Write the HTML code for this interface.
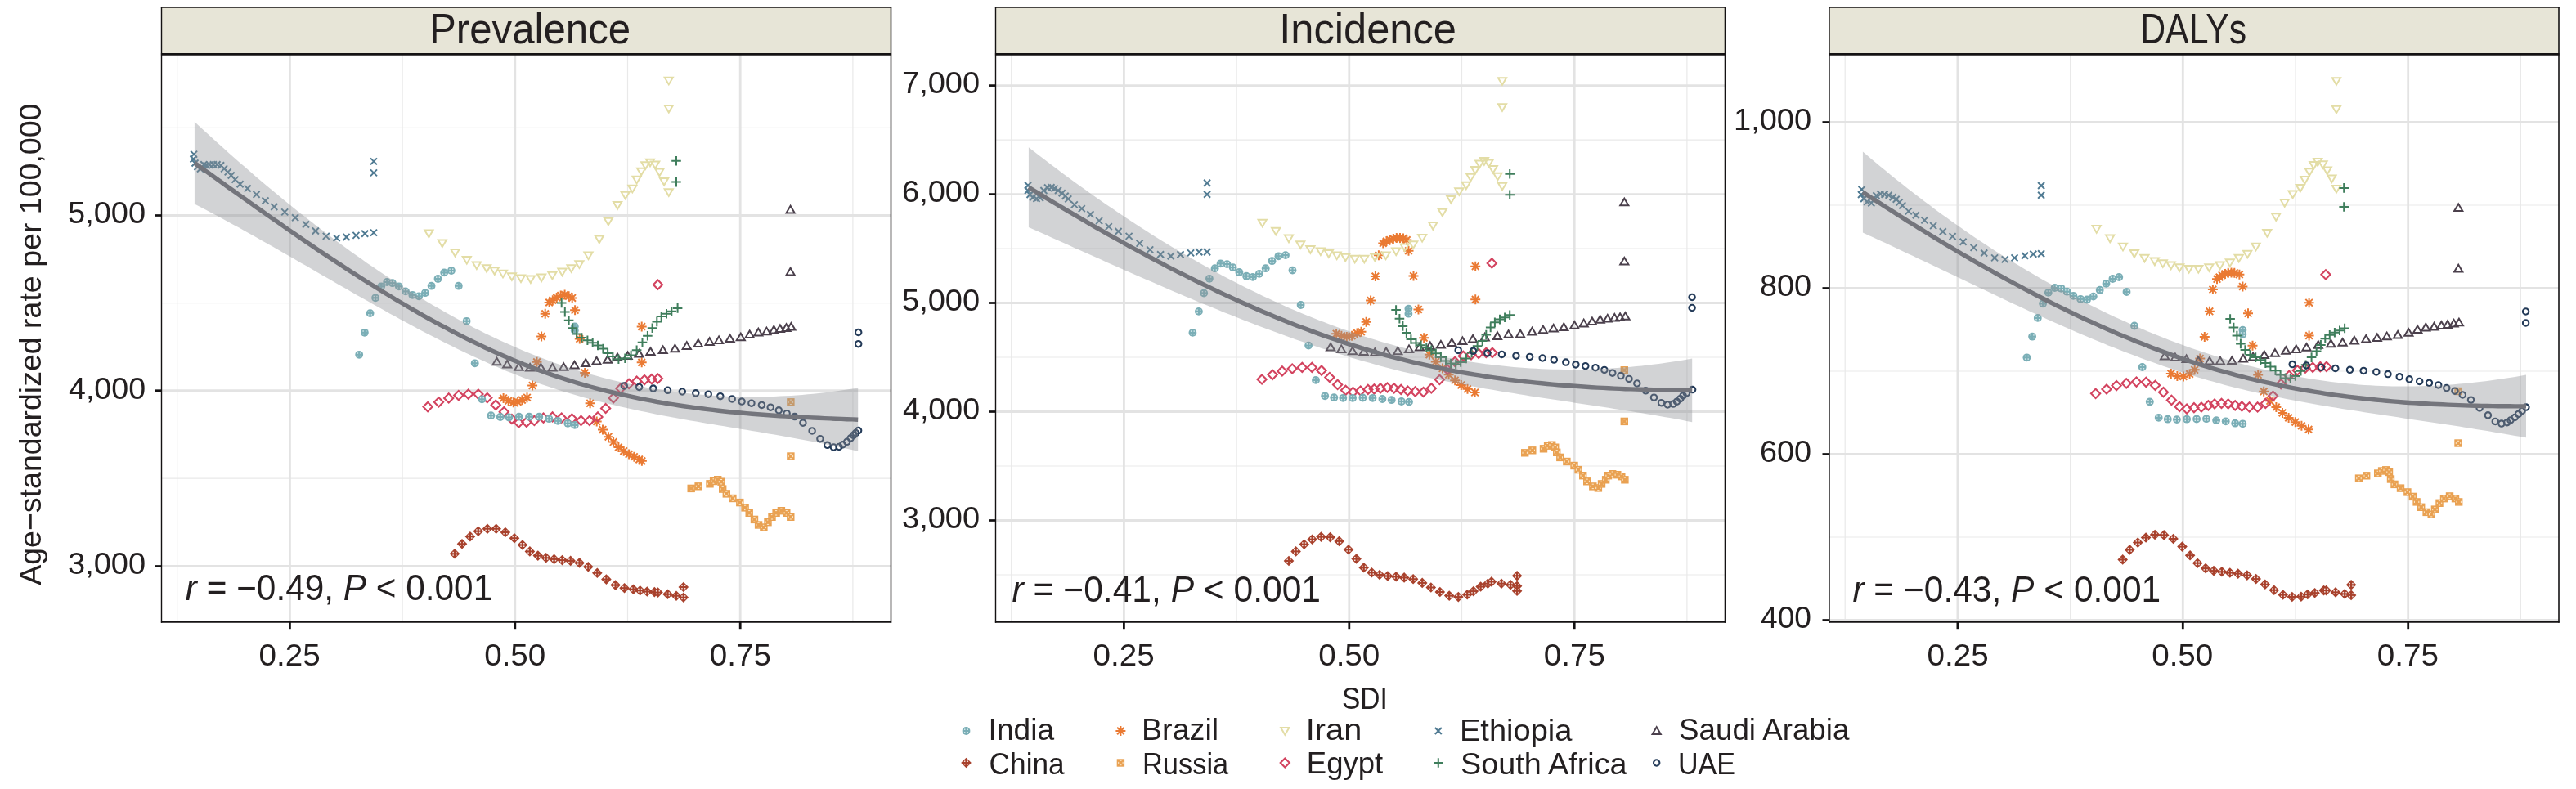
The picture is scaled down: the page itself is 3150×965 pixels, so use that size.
<!DOCTYPE html><html><head><meta charset="utf-8"><style>html,body{margin:0;padding:0;background:#fff;overflow:hidden}svg{display:block;will-change:transform}text{font-family:"Liberation Sans",sans-serif;fill:#231f20}</style></head><body>
<svg width="3150" height="965" viewBox="0 0 3150 965">
<defs>
<g id="mIndia"><circle r="4.9" fill="#7aaeb6"/><g fill="#f2fbfc" opacity="0.8"><rect x="-2.5" y="-2.5" width="1.4" height="1.4"/><rect x="1.1" y="-2.5" width="1.4" height="1.4"/><rect x="-2.5" y="1.1" width="1.4" height="1.4"/><rect x="1.1" y="1.1" width="1.4" height="1.4"/></g></g>
<g id="mChina"><path d="M0,-6.3L6.3,0L0,6.3L-6.3,0Z" fill="#a8412c"/><g fill="#fff" opacity="0.85"><rect x="-2.6" y="-2.5" width="1.5" height="1.5"/><rect x="1.1" y="-2.5" width="1.5" height="1.5"/><rect x="-2.6" y="1.0" width="1.5" height="1.5"/><rect x="1.1" y="1.0" width="1.5" height="1.5"/></g></g>
<path id="mBrazil" d="M-6,0H6M0,-6V6M-4.3,-4.3L4.3,4.3M-4.3,4.3L4.3,-4.3" stroke="#ea7a33" stroke-width="2" fill="none"/>
<g id="mRussia"><rect x="-4.7" y="-4.7" width="9.4" height="9.4" fill="#e9a152"/><g fill="#fff6e0" opacity="0.85"><rect x="-1.1" y="-3.2" width="2.2" height="1"/><rect x="-1.1" y="2.2" width="2.2" height="1"/><rect x="-3.2" y="-1.1" width="1" height="2.2"/><rect x="2.2" y="-1.1" width="1" height="2.2"/></g></g>
<path id="mIran" d="M-5.1,-3.9H5.1L0,4.7Z" stroke="#e3dda6" stroke-width="2" fill="none" stroke-linejoin="miter"/>
<path id="mEgypt" d="M0,-5.6L5.6,0L0,5.6L-5.6,0Z" stroke="#d3435f" stroke-width="2.1" fill="none"/>
<path id="mEthiopia" d="M-4,-4L4,4M-4,4L4,-4" stroke="#4f7a92" stroke-width="2" fill="none"/>
<path id="mSouthAfrica" d="M-5.8,0H5.8M0,-5.8V5.8" stroke="#3f7e5c" stroke-width="2" fill="none"/>
<path id="mSaudi" d="M-5.1,3.9H5.1L0,-4.7Z" stroke="#4b404c" stroke-width="2" fill="none"/>
<circle id="mUAE" r="3.7" stroke="#233a58" stroke-width="2.1" fill="none"/>
</defs>
<line x1="216.7" y1="66.2" x2="216.7" y2="760.7" stroke="#e9e9e9" stroke-width="1.2"/>
<line x1="492.1" y1="66.2" x2="492.1" y2="760.7" stroke="#e9e9e9" stroke-width="1.2"/>
<line x1="767.5" y1="66.2" x2="767.5" y2="760.7" stroke="#e9e9e9" stroke-width="1.2"/>
<line x1="1042.9" y1="66.2" x2="1042.9" y2="760.7" stroke="#e9e9e9" stroke-width="1.2"/>
<line x1="197.5" y1="156.3" x2="1089.5" y2="156.3" stroke="#e9e9e9" stroke-width="1.2"/>
<line x1="197.5" y1="370.6" x2="1089.5" y2="370.6" stroke="#e9e9e9" stroke-width="1.2"/>
<line x1="197.5" y1="585.1" x2="1089.5" y2="585.1" stroke="#e9e9e9" stroke-width="1.2"/>
<line x1="354.4" y1="66.2" x2="354.4" y2="760.7" stroke="#e3e3e3" stroke-width="2.8"/>
<line x1="629.8" y1="66.2" x2="629.8" y2="760.7" stroke="#e3e3e3" stroke-width="2.8"/>
<line x1="905.2" y1="66.2" x2="905.2" y2="760.7" stroke="#e3e3e3" stroke-width="2.8"/>
<line x1="197.5" y1="263.5" x2="1089.5" y2="263.5" stroke="#e3e3e3" stroke-width="2.8"/>
<line x1="197.5" y1="477.7" x2="1089.5" y2="477.7" stroke="#e3e3e3" stroke-width="2.8"/>
<line x1="197.5" y1="692.5" x2="1089.5" y2="692.5" stroke="#e3e3e3" stroke-width="2.8"/>
<use href="#mBrazil" x="615.6" y="486.9"/>
<use href="#mBrazil" x="621.7" y="490.3"/>
<use href="#mBrazil" x="627.8" y="492.2"/>
<use href="#mBrazil" x="633.1" y="491.5"/>
<use href="#mBrazil" x="638.4" y="489.2"/>
<use href="#mBrazil" x="644.5" y="486.2"/>
<use href="#mBrazil" x="651.1" y="471.6"/>
<use href="#mBrazil" x="656.5" y="442.8"/>
<use href="#mBrazil" x="662.1" y="411.6"/>
<use href="#mBrazil" x="666.7" y="383.8"/>
<use href="#mBrazil" x="671.6" y="370"/>
<use href="#mBrazil" x="675.8" y="367.2"/>
<use href="#mBrazil" x="680.7" y="363.9"/>
<use href="#mBrazil" x="685.7" y="361.4"/>
<use href="#mBrazil" x="690.6" y="360.6"/>
<use href="#mBrazil" x="695.6" y="362.2"/>
<use href="#mBrazil" x="699.7" y="364.4"/>
<use href="#mBrazil" x="703.1" y="379.3"/>
<use href="#mBrazil" x="708.8" y="414.5"/>
<use href="#mBrazil" x="715.2" y="456"/>
<use href="#mBrazil" x="721.6" y="493.3"/>
<use href="#mBrazil" x="729.7" y="515.5"/>
<use href="#mBrazil" x="737" y="525.4"/>
<use href="#mBrazil" x="744" y="534.2"/>
<use href="#mBrazil" x="750.1" y="540.6"/>
<use href="#mBrazil" x="756.4" y="547"/>
<use href="#mBrazil" x="762.7" y="551.7"/>
<use href="#mBrazil" x="769.1" y="555.5"/>
<use href="#mBrazil" x="775.4" y="558.7"/>
<use href="#mBrazil" x="781.7" y="561.9"/>
<use href="#mBrazil" x="784.9" y="563.8"/>
<use href="#mBrazil" x="784.7" y="399.4"/>
<use href="#mBrazil" x="784.7" y="443.3"/>
<use href="#mChina" x="556" y="677.3"/>
<use href="#mChina" x="565" y="665.3"/>
<use href="#mChina" x="574.9" y="656.2"/>
<use href="#mChina" x="584.8" y="649.7"/>
<use href="#mChina" x="596" y="646.7"/>
<use href="#mChina" x="606.7" y="646.7"/>
<use href="#mChina" x="617.9" y="651"/>
<use href="#mChina" x="629" y="658.2"/>
<use href="#mChina" x="638.9" y="666.5"/>
<use href="#mChina" x="647.9" y="674.4"/>
<use href="#mChina" x="657.8" y="679.6"/>
<use href="#mChina" x="667.7" y="682.3"/>
<use href="#mChina" x="677.6" y="683.9"/>
<use href="#mChina" x="687.5" y="685.1"/>
<use href="#mChina" x="697.7" y="685.9"/>
<use href="#mChina" x="708.6" y="688.4"/>
<use href="#mChina" x="719.3" y="693.3"/>
<use href="#mChina" x="730.3" y="700.7"/>
<use href="#mChina" x="741.4" y="708.6"/>
<use href="#mChina" x="752.6" y="715.6"/>
<use href="#mChina" x="763.6" y="719.2"/>
<use href="#mChina" x="774.5" y="720.8"/>
<use href="#mChina" x="782.7" y="722.2"/>
<use href="#mChina" x="791.3" y="723.5"/>
<use href="#mChina" x="800.3" y="724.1"/>
<use href="#mChina" x="804.5" y="724.6"/>
<use href="#mChina" x="816.5" y="726.8"/>
<use href="#mChina" x="827" y="728.7"/>
<use href="#mChina" x="835.8" y="730.7"/>
<use href="#mChina" x="835.8" y="718"/>
<use href="#mEgypt" x="523.1" y="497.6"/>
<use href="#mEgypt" x="536.5" y="491.8"/>
<use href="#mEgypt" x="548.7" y="486.9"/>
<use href="#mEgypt" x="560.8" y="483.6"/>
<use href="#mEgypt" x="572.7" y="482.1"/>
<use href="#mEgypt" x="584.9" y="482.1"/>
<use href="#mEgypt" x="595.8" y="486.6"/>
<use href="#mEgypt" x="606.2" y="495.3"/>
<use href="#mEgypt" x="616.3" y="503.7"/>
<use href="#mEgypt" x="625.9" y="512.5"/>
<use href="#mEgypt" x="634.4" y="516.9"/>
<use href="#mEgypt" x="643.9" y="516.3"/>
<use href="#mEgypt" x="653.4" y="514.4"/>
<use href="#mEgypt" x="664.5" y="511.2"/>
<use href="#mEgypt" x="675.6" y="509.9"/>
<use href="#mEgypt" x="686.7" y="511.2"/>
<use href="#mEgypt" x="699.4" y="512.1"/>
<use href="#mEgypt" x="710.5" y="514.4"/>
<use href="#mEgypt" x="720.9" y="514.4"/>
<use href="#mEgypt" x="731" y="509.9"/>
<use href="#mEgypt" x="740.6" y="499.5"/>
<use href="#mEgypt" x="750.1" y="486.8"/>
<use href="#mEgypt" x="758.9" y="475.1"/>
<use href="#mEgypt" x="769.1" y="469.4"/>
<use href="#mEgypt" x="778.6" y="466.2"/>
<use href="#mEgypt" x="788.1" y="464.6"/>
<use href="#mEgypt" x="796.9" y="463.7"/>
<use href="#mEgypt" x="804.5" y="463"/>
<use href="#mEgypt" x="804.5" y="348.2"/>
<use href="#mEthiopia" x="237.1" y="188.6"/>
<use href="#mEthiopia" x="236.5" y="194.5"/>
<use href="#mEthiopia" x="238.5" y="199.5"/>
<use href="#mEthiopia" x="241.5" y="204"/>
<use href="#mEthiopia" x="245" y="206.5"/>
<use href="#mEthiopia" x="249.3" y="201.3"/>
<use href="#mEthiopia" x="252.5" y="202.5"/>
<use href="#mEthiopia" x="256.4" y="201.8"/>
<use href="#mEthiopia" x="260.9" y="201.3"/>
<use href="#mEthiopia" x="265.5" y="201.3"/>
<use href="#mEthiopia" x="270.1" y="202.3"/>
<use href="#mEthiopia" x="274.1" y="206.4"/>
<use href="#mEthiopia" x="278.7" y="210.4"/>
<use href="#mEthiopia" x="282.7" y="214.5"/>
<use href="#mEthiopia" x="287.5" y="219.6"/>
<use href="#mEthiopia" x="293.6" y="225.2"/>
<use href="#mEthiopia" x="302.7" y="230.5"/>
<use href="#mEthiopia" x="313.6" y="237.9"/>
<use href="#mEthiopia" x="324.5" y="245.5"/>
<use href="#mEthiopia" x="335.3" y="253"/>
<use href="#mEthiopia" x="348.2" y="259.4"/>
<use href="#mEthiopia" x="361.1" y="266.3"/>
<use href="#mEthiopia" x="374" y="274.5"/>
<use href="#mEthiopia" x="385.9" y="282.5"/>
<use href="#mEthiopia" x="398.8" y="288.9"/>
<use href="#mEthiopia" x="411.7" y="291.1"/>
<use href="#mEthiopia" x="423.6" y="290"/>
<use href="#mEthiopia" x="435.4" y="287.9"/>
<use href="#mEthiopia" x="446.2" y="285.7"/>
<use href="#mEthiopia" x="457" y="284.6"/>
<use href="#mEthiopia" x="457" y="197.4"/>
<use href="#mEthiopia" x="457" y="211.4"/>
<use href="#mIndia" x="439.2" y="433.8"/>
<use href="#mIndia" x="445.9" y="406.8"/>
<use href="#mIndia" x="452.6" y="383.1"/>
<use href="#mIndia" x="459.1" y="364.3"/>
<use href="#mIndia" x="466.2" y="350.3"/>
<use href="#mIndia" x="473.2" y="345"/>
<use href="#mIndia" x="479.9" y="346.2"/>
<use href="#mIndia" x="487.8" y="350.3"/>
<use href="#mIndia" x="496" y="356.4"/>
<use href="#mIndia" x="504.3" y="360.8"/>
<use href="#mIndia" x="512.2" y="362.4"/>
<use href="#mIndia" x="519.9" y="358.2"/>
<use href="#mIndia" x="527.6" y="349.7"/>
<use href="#mIndia" x="535.5" y="341"/>
<use href="#mIndia" x="543.2" y="333.4"/>
<use href="#mIndia" x="551.9" y="331"/>
<use href="#mIndia" x="560.8" y="349.7"/>
<use href="#mIndia" x="570.6" y="392.8"/>
<use href="#mIndia" x="580.7" y="444.3"/>
<use href="#mIndia" x="589.4" y="488.4"/>
<use href="#mIndia" x="600.4" y="508.2"/>
<use href="#mIndia" x="611.8" y="510"/>
<use href="#mIndia" x="622.4" y="510.5"/>
<use href="#mIndia" x="634.6" y="509.7"/>
<use href="#mIndia" x="647.1" y="509.7"/>
<use href="#mIndia" x="659.3" y="509.7"/>
<use href="#mIndia" x="671.4" y="512.2"/>
<use href="#mIndia" x="682.2" y="514.8"/>
<use href="#mIndia" x="694.3" y="517.8"/>
<use href="#mIndia" x="702.8" y="519.9"/>
<use href="#mIndia" x="702.8" y="399.3"/>
<use href="#mIndia" x="702.8" y="404.3"/>
<use href="#mIran" x="524.4" y="285.5"/>
<use href="#mIran" x="540.8" y="297.4"/>
<use href="#mIran" x="556.5" y="308.8"/>
<use href="#mIran" x="570.8" y="317.9"/>
<use href="#mIran" x="582.9" y="324.3"/>
<use href="#mIran" x="595.1" y="328.1"/>
<use href="#mIran" x="604.8" y="331.1"/>
<use href="#mIran" x="615" y="334.7"/>
<use href="#mIran" x="625.9" y="338.1"/>
<use href="#mIran" x="637" y="340.3"/>
<use href="#mIran" x="648.9" y="341.3"/>
<use href="#mIran" x="662.1" y="339.5"/>
<use href="#mIran" x="675.4" y="336.7"/>
<use href="#mIran" x="687.5" y="332.5"/>
<use href="#mIran" x="698.6" y="328.1"/>
<use href="#mIran" x="708.4" y="323.2"/>
<use href="#mIran" x="719.5" y="312.3"/>
<use href="#mIran" x="732.8" y="292.5"/>
<use href="#mIran" x="743.9" y="270.6"/>
<use href="#mIran" x="755.1" y="251"/>
<use href="#mIran" x="764.7" y="238.6"/>
<use href="#mIran" x="773.3" y="230.6"/>
<use href="#mIran" x="778.6" y="219.6"/>
<use href="#mIran" x="784.1" y="209.6"/>
<use href="#mIran" x="789.3" y="202.1"/>
<use href="#mIran" x="795" y="198.6"/>
<use href="#mIran" x="801.2" y="201.4"/>
<use href="#mIran" x="806.4" y="210.5"/>
<use href="#mIran" x="812.1" y="221.9"/>
<use href="#mIran" x="817.8" y="235.1"/>
<use href="#mIran" x="817.8" y="98.7"/>
<use href="#mIran" x="817.8" y="132.9"/>
<use href="#mRussia" x="845.2" y="597.4"/>
<use href="#mRussia" x="854.1" y="594.8"/>
<use href="#mRussia" x="868" y="591.8"/>
<use href="#mRussia" x="872.6" y="588.5"/>
<use href="#mRussia" x="877.7" y="586.7"/>
<use href="#mRussia" x="882" y="589.2"/>
<use href="#mRussia" x="883.7" y="598.1"/>
<use href="#mRussia" x="888.3" y="603.9"/>
<use href="#mRussia" x="895.9" y="609.5"/>
<use href="#mRussia" x="904.8" y="614.6"/>
<use href="#mRussia" x="911.1" y="620.9"/>
<use href="#mRussia" x="916.2" y="627.3"/>
<use href="#mRussia" x="922.5" y="635.4"/>
<use href="#mRussia" x="927.6" y="642"/>
<use href="#mRussia" x="933.9" y="645"/>
<use href="#mRussia" x="939" y="638.7"/>
<use href="#mRussia" x="944" y="632.3"/>
<use href="#mRussia" x="949.1" y="627.3"/>
<use href="#mRussia" x="955.4" y="624.7"/>
<use href="#mRussia" x="961.8" y="627.3"/>
<use href="#mRussia" x="966.8" y="632.3"/>
<use href="#mRussia" x="966.9" y="491.8"/>
<use href="#mRussia" x="966.9" y="558"/>
<use href="#mSaudi" x="607.5" y="442.4"/>
<use href="#mSaudi" x="620.2" y="445.6"/>
<use href="#mSaudi" x="634.4" y="448.8"/>
<use href="#mSaudi" x="648.1" y="449.7"/>
<use href="#mSaudi" x="661.4" y="449.7"/>
<use href="#mSaudi" x="675.6" y="449.7"/>
<use href="#mSaudi" x="689.2" y="448.8"/>
<use href="#mSaudi" x="702.5" y="446.6"/>
<use href="#mSaudi" x="716.2" y="444"/>
<use href="#mSaudi" x="729.5" y="441.5"/>
<use href="#mSaudi" x="743.1" y="439.9"/>
<use href="#mSaudi" x="755" y="437.2"/>
<use href="#mSaudi" x="767.6" y="435.2"/>
<use href="#mSaudi" x="781.5" y="432.6"/>
<use href="#mSaudi" x="795.5" y="430.1"/>
<use href="#mSaudi" x="810.7" y="428.1"/>
<use href="#mSaudi" x="825.4" y="426.3"/>
<use href="#mSaudi" x="839.8" y="423"/>
<use href="#mSaudi" x="853.8" y="420"/>
<use href="#mSaudi" x="867.7" y="418"/>
<use href="#mSaudi" x="879.1" y="416.2"/>
<use href="#mSaudi" x="892.6" y="414.2"/>
<use href="#mSaudi" x="905.8" y="412.4"/>
<use href="#mSaudi" x="916.7" y="409.1"/>
<use href="#mSaudi" x="927.3" y="406.5"/>
<use href="#mSaudi" x="937.4" y="405.3"/>
<use href="#mSaudi" x="946.3" y="403.5"/>
<use href="#mSaudi" x="953.9" y="402.2"/>
<use href="#mSaudi" x="961.5" y="401"/>
<use href="#mSaudi" x="967.4" y="399.7"/>
<use href="#mSaudi" x="966.6" y="256.5"/>
<use href="#mSaudi" x="966.6" y="332.5"/>
<use href="#mSouthAfrica" x="686.7" y="370.5"/>
<use href="#mSouthAfrica" x="690.8" y="381.6"/>
<use href="#mSouthAfrica" x="695.6" y="391.8"/>
<use href="#mSouthAfrica" x="700.3" y="401.3"/>
<use href="#mSouthAfrica" x="705.1" y="408.6"/>
<use href="#mSouthAfrica" x="711.4" y="413"/>
<use href="#mSouthAfrica" x="718.4" y="416.2"/>
<use href="#mSouthAfrica" x="724.7" y="419.3"/>
<use href="#mSouthAfrica" x="731" y="422.5"/>
<use href="#mSouthAfrica" x="737.4" y="426.6"/>
<use href="#mSouthAfrica" x="743.1" y="432"/>
<use href="#mSouthAfrica" x="749.4" y="436.1"/>
<use href="#mSouthAfrica" x="756.4" y="439.3"/>
<use href="#mSouthAfrica" x="764.3" y="438.3"/>
<use href="#mSouthAfrica" x="771.6" y="434.5"/>
<use href="#mSouthAfrica" x="778.6" y="428.2"/>
<use href="#mSouthAfrica" x="785.5" y="418.7"/>
<use href="#mSouthAfrica" x="791.9" y="410.8"/>
<use href="#mSouthAfrica" x="797.6" y="401.3"/>
<use href="#mSouthAfrica" x="803.3" y="393.4"/>
<use href="#mSouthAfrica" x="808.7" y="387"/>
<use href="#mSouthAfrica" x="815" y="383.8"/>
<use href="#mSouthAfrica" x="821.3" y="380.7"/>
<use href="#mSouthAfrica" x="828.6" y="376.9"/>
<use href="#mSouthAfrica" x="827" y="196.8"/>
<use href="#mSouthAfrica" x="827" y="222.6"/>
<use href="#mUAE" x="763.3" y="472"/>
<use href="#mUAE" x="781.6" y="473.4"/>
<use href="#mUAE" x="798.8" y="475.1"/>
<use href="#mUAE" x="816.5" y="477.3"/>
<use href="#mUAE" x="834.3" y="479"/>
<use href="#mUAE" x="850.8" y="480.8"/>
<use href="#mUAE" x="866.2" y="482.2"/>
<use href="#mUAE" x="880.8" y="484.7"/>
<use href="#mUAE" x="895.2" y="487.9"/>
<use href="#mUAE" x="907.1" y="491.1"/>
<use href="#mUAE" x="918.9" y="493.2"/>
<use href="#mUAE" x="931.4" y="495.4"/>
<use href="#mUAE" x="942.2" y="498.2"/>
<use href="#mUAE" x="952.3" y="501.8"/>
<use href="#mUAE" x="962.1" y="505.7"/>
<use href="#mUAE" x="971.8" y="509.6"/>
<use href="#mUAE" x="981.9" y="517.2"/>
<use href="#mUAE" x="993.1" y="527"/>
<use href="#mUAE" x="1002.9" y="536.7"/>
<use href="#mUAE" x="1011.8" y="544.3"/>
<use href="#mUAE" x="1019.4" y="547"/>
<use href="#mUAE" x="1026" y="546.5"/>
<use href="#mUAE" x="1030.4" y="543.8"/>
<use href="#mUAE" x="1035.7" y="540.3"/>
<use href="#mUAE" x="1040.2" y="535.8"/>
<use href="#mUAE" x="1043.7" y="532.3"/>
<use href="#mUAE" x="1046.4" y="529.6"/>
<use href="#mUAE" x="1049.6" y="526.6"/>
<use href="#mUAE" x="1049.7" y="406.5"/>
<use href="#mUAE" x="1049.7" y="420.7"/>
<polygon points="237.9,149 244.7,155.3 251.5,161.5 258.4,167.8 265.2,173.9 272,180.1 278.8,186.2 285.6,192.2 292.4,198.2 299.3,204.1 306.1,210 312.9,215.9 319.7,221.7 326.5,227.4 333.3,233.1 340.2,238.8 347,244.4 353.8,249.9 360.6,255.4 367.4,260.9 374.3,266.3 381.1,271.6 387.9,276.9 394.7,282.1 401.5,287.3 408.3,292.4 415.2,297.4 422,302.4 428.8,307.4 435.6,312.3 442.4,317.1 449.2,321.9 456.1,326.6 462.9,331.2 469.7,335.8 476.5,340.3 483.3,344.8 490.2,349.2 497,353.5 503.8,357.8 510.6,362 517.4,366.1 524.2,370.2 531.1,374.2 537.9,378.1 544.7,382 551.5,385.8 558.3,389.6 565.1,393.2 572,396.8 578.8,400.4 585.6,403.8 592.4,407.2 599.2,410.6 606.1,413.8 612.9,417 619.7,420.1 626.5,423.1 633.3,426.1 640.1,429 647,431.8 653.8,434.5 660.6,437.1 667.4,439.7 674.2,442.2 681,444.7 687.9,447 694.7,449.3 701.5,451.5 708.3,453.7 715.1,455.7 722,457.7 728.8,459.6 735.6,461.5 742.4,463.2 749.2,465 756,466.6 762.9,468.1 769.7,469.6 776.5,471.1 783.3,472.4 790.1,473.7 796.9,474.9 803.8,476.1 810.6,477.1 817.4,478.1 824.2,479.1 831,480 837.9,480.8 844.7,481.5 851.5,482.2 858.3,482.8 865.1,483.3 871.9,483.8 878.8,484.2 885.6,484.6 892.4,484.9 899.2,485.1 906,485.2 912.8,485.3 919.7,485.4 926.5,485.3 933.3,485.2 940.1,485.1 946.9,484.9 953.8,484.6 960.6,484.3 967.4,483.9 974.2,483.4 981,482.9 987.8,482.3 994.7,481.7 1001.5,481 1008.3,480.2 1015.1,479.4 1021.9,478.5 1028.7,477.6 1035.6,476.6 1042.4,475.6 1049.2,474.5 1049.2,551.9 1042.4,550.3 1035.6,548.8 1028.7,547.2 1021.9,545.8 1015.1,544.4 1008.3,543 1001.5,541.6 994.7,540.3 987.8,539 981,537.7 974.2,536.4 967.4,535.2 960.6,534 953.8,532.8 946.9,531.6 940.1,530.4 933.3,529.3 926.5,528.1 919.7,527 912.8,525.8 906,524.7 899.2,523.6 892.4,522.5 885.6,521.3 878.8,520.2 871.9,519.1 865.1,517.9 858.3,516.8 851.5,515.6 844.7,514.4 837.9,513.2 831,512 824.2,510.7 817.4,509.5 810.6,508.2 803.8,506.9 796.9,505.5 790.1,504.1 783.3,502.7 776.5,501.3 769.7,499.8 762.9,498.3 756,496.7 749.2,495.1 742.4,493.5 735.6,491.8 728.8,490 722,488.2 715.1,486.4 708.3,484.5 701.5,482.5 694.7,480.5 687.9,478.4 681,476.3 674.2,474.1 667.4,471.8 660.6,469.4 653.8,467 647,464.5 640.1,462 633.3,459.3 626.5,456.6 619.7,453.9 612.9,451 606.1,448.1 599.2,445.2 592.4,442.1 585.6,439.1 578.8,435.9 572,432.7 565.1,429.5 558.3,426.2 551.5,422.8 544.7,419.4 537.9,416 531.1,412.5 524.2,409 517.4,405.5 510.6,401.9 503.8,398.2 497,394.6 490.2,390.9 483.3,387.1 476.5,383.4 469.7,379.6 462.9,375.8 456.1,372 449.2,368.1 442.4,364.3 435.6,360.4 428.8,356.5 422,352.6 415.2,348.7 408.3,344.8 401.5,340.8 394.7,336.9 387.9,333 381.1,329 374.3,325.1 367.4,321.2 360.6,317.2 353.8,313.3 347,309.4 340.2,305.5 333.3,301.6 326.5,297.7 319.7,293.9 312.9,290 306.1,286.2 299.3,282.4 292.4,278.6 285.6,274.9 278.8,271.2 272,267.5 265.2,263.8 258.4,260.2 251.5,256.6 244.7,253.1 237.9,249.6" fill="#8f9197" fill-opacity="0.4"/>
<polyline points="237.9,199.3 244.7,204.2 251.5,209.1 258.4,214 265.2,218.9 272,223.8 278.8,228.7 285.6,233.5 292.4,238.4 299.3,243.3 306.1,248.1 312.9,253 319.7,257.8 326.5,262.6 333.3,267.4 340.2,272.1 347,276.9 353.8,281.6 360.6,286.3 367.4,291 374.3,295.7 381.1,300.3 387.9,304.9 394.7,309.5 401.5,314.1 408.3,318.6 415.2,323.1 422,327.5 428.8,331.9 435.6,336.3 442.4,340.7 449.2,345 456.1,349.3 462.9,353.5 469.7,357.7 476.5,361.8 483.3,366 490.2,370 497,374 503.8,378 510.6,381.9 517.4,385.8 524.2,389.6 531.1,393.4 537.9,397.1 544.7,400.7 551.5,404.3 558.3,407.9 565.1,411.4 572,414.8 578.8,418.1 585.6,421.4 592.4,424.7 599.2,427.9 606.1,431 612.9,434 619.7,437 626.5,439.9 633.3,442.7 640.1,445.5 647,448.1 653.8,450.8 660.6,453.3 667.4,455.8 674.2,458.1 681,460.5 687.9,462.7 694.7,464.9 701.5,467 708.3,469.1 715.1,471 722,473 728.8,474.8 735.6,476.6 742.4,478.4 749.2,480 756,481.6 762.9,483.2 769.7,484.7 776.5,486.2 783.3,487.6 790.1,488.9 796.9,490.2 803.8,491.5 810.6,492.6 817.4,493.8 824.2,494.9 831,496 837.9,497 844.7,497.9 851.5,498.9 858.3,499.8 865.1,500.6 871.9,501.4 878.8,502.2 885.6,503 892.4,503.7 899.2,504.3 906,505 912.8,505.6 919.7,506.2 926.5,506.7 933.3,507.3 940.1,507.8 946.9,508.2 953.8,508.7 960.6,509.1 967.4,509.5 974.2,509.9 981,510.3 987.8,510.6 994.7,511 1001.5,511.3 1008.3,511.6 1015.1,511.9 1021.9,512.2 1028.7,512.4 1035.6,512.7 1042.4,512.9 1049.2,513.2" fill="none" stroke="#74757c" stroke-width="5.4" stroke-linejoin="round"/>
<rect x="197.5" y="9.0" width="892.0" height="57.2" fill="#e7e5d7"/>
<line x1="196.9" y1="8.9" x2="1090.1" y2="8.9" stroke="#141213" stroke-width="1.7"/>
<line x1="196.9" y1="66.4" x2="1090.1" y2="66.4" stroke="#141213" stroke-width="2.8"/>
<line x1="196.9" y1="760.9" x2="1090.1" y2="760.9" stroke="#141213" stroke-width="1.7"/>
<line x1="197.5" y1="8.1" x2="197.5" y2="761.7" stroke="#141213" stroke-width="1.4"/>
<line x1="1089.5" y1="8.1" x2="1089.5" y2="761.7" stroke="#141213" stroke-width="1.6"/>
<line x1="189.0" y1="263.5" x2="197.5" y2="263.5" stroke="#141213" stroke-width="2.7"/>
<line x1="189.0" y1="477.7" x2="197.5" y2="477.7" stroke="#141213" stroke-width="2.7"/>
<line x1="189.0" y1="692.5" x2="197.5" y2="692.5" stroke="#141213" stroke-width="2.7"/>
<line x1="354.4" y1="760.7" x2="354.4" y2="769.2" stroke="#141213" stroke-width="2.8"/>
<line x1="629.8" y1="760.7" x2="629.8" y2="769.2" stroke="#141213" stroke-width="2.8"/>
<line x1="905.2" y1="760.7" x2="905.2" y2="769.2" stroke="#141213" stroke-width="2.8"/>
<line x1="1236.7" y1="66.2" x2="1236.7" y2="760.7" stroke="#e9e9e9" stroke-width="1.2"/>
<line x1="1512.1" y1="66.2" x2="1512.1" y2="760.7" stroke="#e9e9e9" stroke-width="1.2"/>
<line x1="1787.5" y1="66.2" x2="1787.5" y2="760.7" stroke="#e9e9e9" stroke-width="1.2"/>
<line x1="2062.9" y1="66.2" x2="2062.9" y2="760.7" stroke="#e9e9e9" stroke-width="1.2"/>
<line x1="1217.5" y1="171.1" x2="2109.5" y2="171.1" stroke="#e9e9e9" stroke-width="1.2"/>
<line x1="1217.5" y1="304.1" x2="2109.5" y2="304.1" stroke="#e9e9e9" stroke-width="1.2"/>
<line x1="1217.5" y1="437" x2="2109.5" y2="437" stroke="#e9e9e9" stroke-width="1.2"/>
<line x1="1217.5" y1="570" x2="2109.5" y2="570" stroke="#e9e9e9" stroke-width="1.2"/>
<line x1="1217.5" y1="703" x2="2109.5" y2="703" stroke="#e9e9e9" stroke-width="1.2"/>
<line x1="1374.4" y1="66.2" x2="1374.4" y2="760.7" stroke="#e3e3e3" stroke-width="2.8"/>
<line x1="1649.8" y1="66.2" x2="1649.8" y2="760.7" stroke="#e3e3e3" stroke-width="2.8"/>
<line x1="1925.2" y1="66.2" x2="1925.2" y2="760.7" stroke="#e3e3e3" stroke-width="2.8"/>
<line x1="1217.5" y1="104.6" x2="2109.5" y2="104.6" stroke="#e3e3e3" stroke-width="2.8"/>
<line x1="1217.5" y1="237.6" x2="2109.5" y2="237.6" stroke="#e3e3e3" stroke-width="2.8"/>
<line x1="1217.5" y1="370.5" x2="2109.5" y2="370.5" stroke="#e3e3e3" stroke-width="2.8"/>
<line x1="1217.5" y1="503.5" x2="2109.5" y2="503.5" stroke="#e3e3e3" stroke-width="2.8"/>
<line x1="1217.5" y1="636.5" x2="2109.5" y2="636.5" stroke="#e3e3e3" stroke-width="2.8"/>
<use href="#mBrazil" x="1634.1" y="408.2"/>
<use href="#mBrazil" x="1640.4" y="410.8"/>
<use href="#mBrazil" x="1646.8" y="412"/>
<use href="#mBrazil" x="1653.1" y="410.8"/>
<use href="#mBrazil" x="1659.5" y="407.6"/>
<use href="#mBrazil" x="1664.5" y="405.7"/>
<use href="#mBrazil" x="1670.6" y="393.7"/>
<use href="#mBrazil" x="1676.1" y="367.5"/>
<use href="#mBrazil" x="1681.9" y="338"/>
<use href="#mBrazil" x="1685.9" y="312.2"/>
<use href="#mBrazil" x="1691.3" y="297.5"/>
<use href="#mBrazil" x="1695.5" y="295"/>
<use href="#mBrazil" x="1699.6" y="293.5"/>
<use href="#mBrazil" x="1703.8" y="292"/>
<use href="#mBrazil" x="1707.8" y="290.9"/>
<use href="#mBrazil" x="1712" y="291"/>
<use href="#mBrazil" x="1716" y="291.5"/>
<use href="#mBrazil" x="1720.3" y="293.5"/>
<use href="#mBrazil" x="1722.5" y="306.7"/>
<use href="#mBrazil" x="1728.5" y="337.6"/>
<use href="#mBrazil" x="1734.5" y="378.5"/>
<use href="#mBrazil" x="1741.2" y="413.2"/>
<use href="#mBrazil" x="1747.9" y="433.8"/>
<use href="#mBrazil" x="1755.8" y="442.4"/>
<use href="#mBrazil" x="1764" y="450.6"/>
<use href="#mBrazil" x="1771.6" y="458.2"/>
<use href="#mBrazil" x="1779.2" y="465.2"/>
<use href="#mBrazil" x="1786.8" y="471"/>
<use href="#mBrazil" x="1794.5" y="475.8"/>
<use href="#mBrazil" x="1803.6" y="480.1"/>
<use href="#mBrazil" x="1804.2" y="325.7"/>
<use href="#mBrazil" x="1804.2" y="366.3"/>
<use href="#mChina" x="1576" y="686"/>
<use href="#mChina" x="1584.6" y="674.4"/>
<use href="#mChina" x="1594.7" y="665.7"/>
<use href="#mChina" x="1604.6" y="659.7"/>
<use href="#mChina" x="1615.5" y="656.6"/>
<use href="#mChina" x="1626.6" y="657.1"/>
<use href="#mChina" x="1637.6" y="661.9"/>
<use href="#mChina" x="1649" y="672.3"/>
<use href="#mChina" x="1658.6" y="683.5"/>
<use href="#mChina" x="1667.7" y="694.2"/>
<use href="#mChina" x="1677.4" y="700.3"/>
<use href="#mChina" x="1687" y="703"/>
<use href="#mChina" x="1696.9" y="704.5"/>
<use href="#mChina" x="1707.2" y="705.3"/>
<use href="#mChina" x="1717.1" y="706.4"/>
<use href="#mChina" x="1728.1" y="708.3"/>
<use href="#mChina" x="1739.2" y="712.9"/>
<use href="#mChina" x="1749.8" y="718.5"/>
<use href="#mChina" x="1760.8" y="724"/>
<use href="#mChina" x="1772.2" y="728.6"/>
<use href="#mChina" x="1783.3" y="730.1"/>
<use href="#mChina" x="1794.2" y="727.3"/>
<use href="#mChina" x="1801.8" y="723.1"/>
<use href="#mChina" x="1810.6" y="717.5"/>
<use href="#mChina" x="1819.3" y="713.7"/>
<use href="#mChina" x="1823.9" y="711.4"/>
<use href="#mChina" x="1836" y="713.7"/>
<use href="#mChina" x="1847.1" y="715.2"/>
<use href="#mChina" x="1855.1" y="716.7"/>
<use href="#mChina" x="1855.1" y="722.8"/>
<use href="#mChina" x="1855.1" y="704.2"/>
<use href="#mEgypt" x="1543.1" y="464"/>
<use href="#mEgypt" x="1556.1" y="458.3"/>
<use href="#mEgypt" x="1567.9" y="453.9"/>
<use href="#mEgypt" x="1580.2" y="451"/>
<use href="#mEgypt" x="1592.3" y="449.4"/>
<use href="#mEgypt" x="1604.3" y="449.4"/>
<use href="#mEgypt" x="1616" y="453.2"/>
<use href="#mEgypt" x="1625.9" y="461.5"/>
<use href="#mEgypt" x="1635.6" y="470.4"/>
<use href="#mEgypt" x="1645.5" y="477.3"/>
<use href="#mEgypt" x="1654.5" y="479.5"/>
<use href="#mEgypt" x="1663.7" y="478"/>
<use href="#mEgypt" x="1672.8" y="476.4"/>
<use href="#mEgypt" x="1680.4" y="475.8"/>
<use href="#mEgypt" x="1688" y="474.9"/>
<use href="#mEgypt" x="1696.5" y="474"/>
<use href="#mEgypt" x="1704.7" y="474.9"/>
<use href="#mEgypt" x="1713.2" y="476.4"/>
<use href="#mEgypt" x="1721.4" y="478"/>
<use href="#mEgypt" x="1730.6" y="478.9"/>
<use href="#mEgypt" x="1740.6" y="479.5"/>
<use href="#mEgypt" x="1750.3" y="474.9"/>
<use href="#mEgypt" x="1760.4" y="464.3"/>
<use href="#mEgypt" x="1770.1" y="452.1"/>
<use href="#mEgypt" x="1779.2" y="442.4"/>
<use href="#mEgypt" x="1789.3" y="435.4"/>
<use href="#mEgypt" x="1799" y="433.8"/>
<use href="#mEgypt" x="1808.1" y="432.3"/>
<use href="#mEgypt" x="1817.3" y="431.4"/>
<use href="#mEgypt" x="1824.9" y="431.4"/>
<use href="#mEgypt" x="1824.3" y="321.9"/>
<use href="#mEthiopia" x="1257.1" y="226.7"/>
<use href="#mEthiopia" x="1257" y="233"/>
<use href="#mEthiopia" x="1259.5" y="238"/>
<use href="#mEthiopia" x="1263" y="241.5"/>
<use href="#mEthiopia" x="1267.5" y="243"/>
<use href="#mEthiopia" x="1272" y="242"/>
<use href="#mEthiopia" x="1276.4" y="233"/>
<use href="#mEthiopia" x="1281" y="229.5"/>
<use href="#mEthiopia" x="1285.5" y="229.2"/>
<use href="#mEthiopia" x="1289.5" y="230.5"/>
<use href="#mEthiopia" x="1294" y="233"/>
<use href="#mEthiopia" x="1298.7" y="236.3"/>
<use href="#mEthiopia" x="1302.7" y="239.8"/>
<use href="#mEthiopia" x="1306.3" y="243.4"/>
<use href="#mEthiopia" x="1313.8" y="250.4"/>
<use href="#mEthiopia" x="1322.8" y="255.1"/>
<use href="#mEthiopia" x="1333.4" y="262.2"/>
<use href="#mEthiopia" x="1344.1" y="270.1"/>
<use href="#mEthiopia" x="1355.8" y="277.1"/>
<use href="#mEthiopia" x="1367.6" y="283"/>
<use href="#mEthiopia" x="1380.6" y="288.9"/>
<use href="#mEthiopia" x="1393.6" y="297.6"/>
<use href="#mEthiopia" x="1406.2" y="305.4"/>
<use href="#mEthiopia" x="1419.1" y="311.3"/>
<use href="#mEthiopia" x="1431.7" y="313.3"/>
<use href="#mEthiopia" x="1443.5" y="311.3"/>
<use href="#mEthiopia" x="1456.1" y="309.4"/>
<use href="#mEthiopia" x="1466.3" y="308.2"/>
<use href="#mEthiopia" x="1476.1" y="308.2"/>
<use href="#mEthiopia" x="1476.1" y="223.7"/>
<use href="#mEthiopia" x="1476.1" y="237.8"/>
<use href="#mIndia" x="1458.4" y="406.9"/>
<use href="#mIndia" x="1465.9" y="380.9"/>
<use href="#mIndia" x="1472.2" y="358.5"/>
<use href="#mIndia" x="1478.9" y="340.8"/>
<use href="#mIndia" x="1485.6" y="328.2"/>
<use href="#mIndia" x="1492.6" y="322.3"/>
<use href="#mIndia" x="1500.5" y="323.1"/>
<use href="#mIndia" x="1507.6" y="327.1"/>
<use href="#mIndia" x="1515.4" y="333"/>
<use href="#mIndia" x="1524.1" y="337.7"/>
<use href="#mIndia" x="1532" y="338.9"/>
<use href="#mIndia" x="1539.8" y="334.9"/>
<use href="#mIndia" x="1547.7" y="328.2"/>
<use href="#mIndia" x="1555.5" y="319.2"/>
<use href="#mIndia" x="1563.4" y="313.3"/>
<use href="#mIndia" x="1572" y="312.1"/>
<use href="#mIndia" x="1580.5" y="330.6"/>
<use href="#mIndia" x="1590.6" y="373"/>
<use href="#mIndia" x="1600.1" y="422.6"/>
<use href="#mIndia" x="1609" y="464.9"/>
<use href="#mIndia" x="1620.2" y="484.3"/>
<use href="#mIndia" x="1631.3" y="486.2"/>
<use href="#mIndia" x="1642.3" y="486.8"/>
<use href="#mIndia" x="1654.1" y="486.8"/>
<use href="#mIndia" x="1666.4" y="486.5"/>
<use href="#mIndia" x="1678.5" y="486.8"/>
<use href="#mIndia" x="1690.4" y="488"/>
<use href="#mIndia" x="1701.7" y="489.2"/>
<use href="#mIndia" x="1713.8" y="491"/>
<use href="#mIndia" x="1723" y="491.6"/>
<use href="#mIndia" x="1722.4" y="377.6"/>
<use href="#mIndia" x="1722.4" y="383.7"/>
<use href="#mIran" x="1543.7" y="272.7"/>
<use href="#mIran" x="1560.2" y="282.6"/>
<use href="#mIran" x="1576" y="291.5"/>
<use href="#mIran" x="1590.2" y="299.1"/>
<use href="#mIran" x="1602.4" y="305"/>
<use href="#mIran" x="1614.9" y="307.3"/>
<use href="#mIran" x="1624.8" y="310"/>
<use href="#mIran" x="1634.7" y="312.3"/>
<use href="#mIran" x="1645.2" y="314.6"/>
<use href="#mIran" x="1656.7" y="316.6"/>
<use href="#mIran" x="1668.3" y="316.6"/>
<use href="#mIran" x="1681.4" y="314.6"/>
<use href="#mIran" x="1694.6" y="312.3"/>
<use href="#mIran" x="1707.2" y="307.3"/>
<use href="#mIran" x="1717.7" y="302.4"/>
<use href="#mIran" x="1728.2" y="299.1"/>
<use href="#mIran" x="1739.1" y="290.9"/>
<use href="#mIran" x="1752.3" y="276"/>
<use href="#mIran" x="1763.8" y="259.6"/>
<use href="#mIran" x="1774.4" y="243.8"/>
<use href="#mIran" x="1784.3" y="234.2"/>
<use href="#mIran" x="1792.8" y="226.6"/>
<use href="#mIran" x="1798.4" y="216.7"/>
<use href="#mIran" x="1804" y="207.8"/>
<use href="#mIran" x="1809.3" y="200.3"/>
<use href="#mIran" x="1814.9" y="197"/>
<use href="#mIran" x="1820.5" y="199.3"/>
<use href="#mIran" x="1825.8" y="206.9"/>
<use href="#mIran" x="1831.4" y="215.7"/>
<use href="#mIran" x="1837" y="227.6"/>
<use href="#mIran" x="1837" y="99.1"/>
<use href="#mIran" x="1837" y="131.1"/>
<use href="#mRussia" x="1864.7" y="553.8"/>
<use href="#mRussia" x="1873.8" y="550.8"/>
<use href="#mRussia" x="1887.5" y="548.8"/>
<use href="#mRussia" x="1892.6" y="545.2"/>
<use href="#mRussia" x="1897.7" y="544.2"/>
<use href="#mRussia" x="1901.7" y="547.2"/>
<use href="#mRussia" x="1903.7" y="553.3"/>
<use href="#mRussia" x="1907.8" y="559.4"/>
<use href="#mRussia" x="1915.9" y="564.5"/>
<use href="#mRussia" x="1925" y="569.5"/>
<use href="#mRussia" x="1930.1" y="574.6"/>
<use href="#mRussia" x="1935.7" y="581.7"/>
<use href="#mRussia" x="1940.7" y="588.8"/>
<use href="#mRussia" x="1947.8" y="594.9"/>
<use href="#mRussia" x="1954.4" y="596.9"/>
<use href="#mRussia" x="1958.5" y="591.9"/>
<use href="#mRussia" x="1963.6" y="586.8"/>
<use href="#mRussia" x="1966.6" y="581.7"/>
<use href="#mRussia" x="1971.7" y="579.7"/>
<use href="#mRussia" x="1977.8" y="580.7"/>
<use href="#mRussia" x="1982.8" y="582.7"/>
<use href="#mRussia" x="1986.9" y="586.8"/>
<use href="#mRussia" x="1986.3" y="452.7"/>
<use href="#mRussia" x="1986.3" y="515.4"/>
<use href="#mSaudi" x="1627.1" y="424.7"/>
<use href="#mSaudi" x="1640.2" y="427.1"/>
<use href="#mSaudi" x="1653.9" y="429.3"/>
<use href="#mSaudi" x="1667.6" y="430.2"/>
<use href="#mSaudi" x="1681.3" y="430.8"/>
<use href="#mSaudi" x="1695" y="430.2"/>
<use href="#mSaudi" x="1709.3" y="429.3"/>
<use href="#mSaudi" x="1723" y="427.1"/>
<use href="#mSaudi" x="1736" y="424.7"/>
<use href="#mSaudi" x="1748.8" y="423.2"/>
<use href="#mSaudi" x="1761.9" y="421.7"/>
<use href="#mSaudi" x="1775.3" y="419.2"/>
<use href="#mSaudi" x="1788.4" y="417.1"/>
<use href="#mSaudi" x="1801.1" y="414.7"/>
<use href="#mSaudi" x="1815.7" y="412.5"/>
<use href="#mSaudi" x="1831" y="411"/>
<use href="#mSaudi" x="1844.6" y="408.9"/>
<use href="#mSaudi" x="1859.1" y="408.5"/>
<use href="#mSaudi" x="1873.5" y="405.5"/>
<use href="#mSaudi" x="1886.9" y="403.3"/>
<use href="#mSaudi" x="1899.7" y="401.7"/>
<use href="#mSaudi" x="1912.3" y="400.1"/>
<use href="#mSaudi" x="1925.3" y="397.8"/>
<use href="#mSaudi" x="1936.7" y="395.5"/>
<use href="#mSaudi" x="1946.9" y="393.2"/>
<use href="#mSaudi" x="1956.7" y="390.9"/>
<use href="#mSaudi" x="1965.8" y="389.6"/>
<use href="#mSaudi" x="1974.3" y="388.7"/>
<use href="#mSaudi" x="1981.1" y="388"/>
<use href="#mSaudi" x="1987.5" y="386.8"/>
<use href="#mSaudi" x="1986.3" y="247.4"/>
<use href="#mSaudi" x="1986.3" y="319.7"/>
<use href="#mSouthAfrica" x="1707.1" y="379.1"/>
<use href="#mSouthAfrica" x="1711.4" y="389.7"/>
<use href="#mSouthAfrica" x="1715.4" y="398.9"/>
<use href="#mSouthAfrica" x="1719.9" y="407.1"/>
<use href="#mSouthAfrica" x="1725.4" y="415"/>
<use href="#mSouthAfrica" x="1731.5" y="419.5"/>
<use href="#mSouthAfrica" x="1737.6" y="422.3"/>
<use href="#mSouthAfrica" x="1744.3" y="425.3"/>
<use href="#mSouthAfrica" x="1750.3" y="428.4"/>
<use href="#mSouthAfrica" x="1755.8" y="432.3"/>
<use href="#mSouthAfrica" x="1761.9" y="436.9"/>
<use href="#mSouthAfrica" x="1768" y="441.4"/>
<use href="#mSouthAfrica" x="1774.1" y="444.5"/>
<use href="#mSouthAfrica" x="1780.2" y="445.4"/>
<use href="#mSouthAfrica" x="1786.2" y="443"/>
<use href="#mSouthAfrica" x="1792.9" y="438.4"/>
<use href="#mSouthAfrica" x="1799.6" y="431.4"/>
<use href="#mSouthAfrica" x="1806.6" y="423.2"/>
<use href="#mSouthAfrica" x="1812.7" y="417.1"/>
<use href="#mSouthAfrica" x="1817.3" y="409.5"/>
<use href="#mSouthAfrica" x="1822.7" y="400.4"/>
<use href="#mSouthAfrica" x="1827.9" y="394.3"/>
<use href="#mSouthAfrica" x="1834" y="390.6"/>
<use href="#mSouthAfrica" x="1840.1" y="388.2"/>
<use href="#mSouthAfrica" x="1846.2" y="385.2"/>
<use href="#mSouthAfrica" x="1846.2" y="212.8"/>
<use href="#mSouthAfrica" x="1846.2" y="238.2"/>
<use href="#mUAE" x="1783.2" y="428.4"/>
<use href="#mUAE" x="1801.5" y="429.3"/>
<use href="#mUAE" x="1818.9" y="431.9"/>
<use href="#mUAE" x="1836.4" y="433.4"/>
<use href="#mUAE" x="1853.9" y="435.2"/>
<use href="#mUAE" x="1870.6" y="436.4"/>
<use href="#mUAE" x="1886.2" y="438"/>
<use href="#mUAE" x="1900.3" y="440.1"/>
<use href="#mUAE" x="1914.8" y="443.1"/>
<use href="#mUAE" x="1926.9" y="445.9"/>
<use href="#mUAE" x="1938.8" y="447.7"/>
<use href="#mUAE" x="1951" y="449.7"/>
<use href="#mUAE" x="1961.9" y="452.4"/>
<use href="#mUAE" x="1971.8" y="456.2"/>
<use href="#mUAE" x="1982" y="459.6"/>
<use href="#mUAE" x="1992" y="463.4"/>
<use href="#mUAE" x="2001.8" y="469"/>
<use href="#mUAE" x="2012.4" y="477.8"/>
<use href="#mUAE" x="2022.5" y="486.2"/>
<use href="#mUAE" x="2031.6" y="492.7"/>
<use href="#mUAE" x="2039.2" y="495"/>
<use href="#mUAE" x="2046" y="494.1"/>
<use href="#mUAE" x="2050.5" y="491.2"/>
<use href="#mUAE" x="2054.7" y="487.7"/>
<use href="#mUAE" x="2058.1" y="483.9"/>
<use href="#mUAE" x="2062.3" y="480.9"/>
<use href="#mUAE" x="2069.6" y="476.6"/>
<use href="#mUAE" x="2069.1" y="363.5"/>
<use href="#mUAE" x="2069.1" y="376.5"/>
<polygon points="1257.9,180.2 1264.7,185.5 1271.5,190.8 1278.4,196 1285.2,201.2 1292,206.3 1298.8,211.4 1305.6,216.5 1312.4,221.5 1319.3,226.4 1326.1,231.3 1332.9,236.2 1339.7,241 1346.5,245.7 1353.3,250.5 1360.2,255.1 1367,259.7 1373.8,264.3 1380.6,268.8 1387.4,273.3 1394.3,277.7 1401.1,282.1 1407.9,286.4 1414.7,290.7 1421.5,294.9 1428.3,299 1435.2,303.2 1442,307.2 1448.8,311.2 1455.6,315.2 1462.4,319.1 1469.2,323 1476.1,326.8 1482.9,330.5 1489.7,334.2 1496.5,337.9 1503.3,341.5 1510.2,345 1517,348.5 1523.8,351.9 1530.6,355.3 1537.4,358.6 1544.2,361.9 1551.1,365.1 1557.9,368.2 1564.7,371.3 1571.5,374.4 1578.3,377.4 1585.1,380.3 1592,383.2 1598.8,386 1605.6,388.8 1612.4,391.5 1619.2,394.1 1626.1,396.7 1632.9,399.3 1639.7,401.7 1646.5,404.1 1653.3,406.5 1660.1,408.8 1667,411 1673.8,413.2 1680.6,415.3 1687.4,417.4 1694.2,419.4 1701,421.3 1707.9,423.2 1714.7,425 1721.5,426.8 1728.3,428.5 1735.1,430.1 1742,431.7 1748.8,433.2 1755.6,434.7 1762.4,436.1 1769.2,437.4 1776,438.7 1782.9,439.9 1789.7,441.1 1796.5,442.2 1803.3,443.3 1810.1,444.2 1816.9,445.2 1823.8,446 1830.6,446.8 1837.4,447.6 1844.2,448.3 1851,448.9 1857.9,449.5 1864.7,450 1871.5,450.4 1878.3,450.8 1885.1,451.2 1891.9,451.5 1898.8,451.7 1905.6,451.8 1912.4,451.9 1919.2,452 1926,452 1932.8,451.9 1939.7,451.8 1946.5,451.6 1953.3,451.4 1960.1,451.1 1966.9,450.7 1973.8,450.3 1980.6,449.8 1987.4,449.3 1994.2,448.7 2001,448.1 2007.8,447.4 2014.7,446.6 2021.5,445.8 2028.3,445 2035.1,444 2041.9,443.1 2048.7,442 2055.6,440.9 2062.4,439.8 2069.2,438.6 2069.2,516.2 2062.4,514.9 2055.6,513.6 2048.7,512.3 2041.9,511.1 2035.1,509.9 2028.3,508.7 2021.5,507.6 2014.7,506.4 2007.8,505.3 2001,504.2 1994.2,503.1 1987.4,502 1980.6,500.9 1973.8,499.9 1966.9,498.8 1960.1,497.8 1953.3,496.8 1946.5,495.7 1939.7,494.7 1932.8,493.7 1926,492.7 1919.2,491.6 1912.4,490.6 1905.6,489.6 1898.8,488.6 1891.9,487.5 1885.1,486.5 1878.3,485.4 1871.5,484.4 1864.7,483.3 1857.9,482.2 1851,481.1 1844.2,480 1837.4,478.9 1830.6,477.8 1823.8,476.6 1816.9,475.4 1810.1,474.2 1803.3,473 1796.5,471.7 1789.7,470.5 1782.9,469.2 1776,467.8 1769.2,466.5 1762.4,465.1 1755.6,463.7 1748.8,462.2 1742,460.7 1735.1,459.2 1728.3,457.6 1721.5,456 1714.7,454.4 1707.9,452.7 1701,451 1694.2,449.2 1687.4,447.4 1680.6,445.5 1673.8,443.6 1667,441.7 1660.1,439.7 1653.3,437.7 1646.5,435.6 1639.7,433.5 1632.9,431.4 1626.1,429.2 1619.2,427 1612.4,424.7 1605.6,422.5 1598.8,420.1 1592,417.8 1585.1,415.4 1578.3,413 1571.5,410.6 1564.7,408.1 1557.9,405.6 1551.1,403 1544.2,400.5 1537.4,397.9 1530.6,395.3 1523.8,392.7 1517,390 1510.2,387.3 1503.3,384.6 1496.5,381.9 1489.7,379.1 1482.9,376.3 1476.1,373.5 1469.2,370.7 1462.4,367.9 1455.6,365 1448.8,362.2 1442,359.3 1435.2,356.4 1428.3,353.5 1421.5,350.5 1414.7,347.6 1407.9,344.6 1401.1,341.7 1394.3,338.7 1387.4,335.7 1380.6,332.7 1373.8,329.7 1367,326.7 1360.2,323.7 1353.3,320.7 1346.5,317.6 1339.7,314.6 1332.9,311.5 1326.1,308.5 1319.3,305.4 1312.4,302.4 1305.6,299.3 1298.8,296.3 1292,293.2 1285.2,290.2 1278.4,287.1 1271.5,284.1 1264.7,281.1 1257.9,278" fill="#8f9197" fill-opacity="0.4"/>
<polyline points="1257.9,229.1 1264.7,233.3 1271.5,237.4 1278.4,241.6 1285.2,245.7 1292,249.8 1298.8,253.9 1305.6,257.9 1312.4,261.9 1319.3,265.9 1326.1,269.9 1332.9,273.9 1339.7,277.8 1346.5,281.7 1353.3,285.6 1360.2,289.4 1367,293.2 1373.8,297 1380.6,300.8 1387.4,304.5 1394.3,308.2 1401.1,311.9 1407.9,315.5 1414.7,319.1 1421.5,322.7 1428.3,326.3 1435.2,329.8 1442,333.3 1448.8,336.7 1455.6,340.1 1462.4,343.5 1469.2,346.8 1476.1,350.2 1482.9,353.4 1489.7,356.7 1496.5,359.9 1503.3,363 1510.2,366.1 1517,369.2 1523.8,372.3 1530.6,375.3 1537.4,378.3 1544.2,381.2 1551.1,384.1 1557.9,386.9 1564.7,389.7 1571.5,392.5 1578.3,395.2 1585.1,397.9 1592,400.5 1598.8,403.1 1605.6,405.6 1612.4,408.1 1619.2,410.6 1626.1,413 1632.9,415.3 1639.7,417.6 1646.5,419.9 1653.3,422.1 1660.1,424.2 1667,426.4 1673.8,428.4 1680.6,430.4 1687.4,432.4 1694.2,434.3 1701,436.2 1707.9,438 1714.7,439.7 1721.5,441.4 1728.3,443.1 1735.1,444.7 1742,446.2 1748.8,447.7 1755.6,449.2 1762.4,450.6 1769.2,452 1776,453.3 1782.9,454.6 1789.7,455.8 1796.5,457 1803.3,458.1 1810.1,459.2 1816.9,460.3 1823.8,461.3 1830.6,462.3 1837.4,463.2 1844.2,464.2 1851,465 1857.9,465.9 1864.7,466.7 1871.5,467.4 1878.3,468.1 1885.1,468.8 1891.9,469.5 1898.8,470.1 1905.6,470.7 1912.4,471.3 1919.2,471.8 1926,472.3 1932.8,472.8 1939.7,473.2 1946.5,473.7 1953.3,474.1 1960.1,474.4 1966.9,474.8 1973.8,475.1 1980.6,475.4 1987.4,475.7 1994.2,475.9 2001,476.1 2007.8,476.3 2014.7,476.5 2021.5,476.7 2028.3,476.8 2035.1,477 2041.9,477.1 2048.7,477.2 2055.6,477.3 2062.4,477.3 2069.2,477.4" fill="none" stroke="#74757c" stroke-width="5.4" stroke-linejoin="round"/>
<rect x="1217.5" y="9.0" width="892.0" height="57.2" fill="#e7e5d7"/>
<line x1="1216.9" y1="8.9" x2="2110.1" y2="8.9" stroke="#141213" stroke-width="1.7"/>
<line x1="1216.9" y1="66.4" x2="2110.1" y2="66.4" stroke="#141213" stroke-width="2.8"/>
<line x1="1216.9" y1="760.9" x2="2110.1" y2="760.9" stroke="#141213" stroke-width="1.7"/>
<line x1="1217.5" y1="8.1" x2="1217.5" y2="761.7" stroke="#141213" stroke-width="1.4"/>
<line x1="2109.5" y1="8.1" x2="2109.5" y2="761.7" stroke="#141213" stroke-width="1.6"/>
<line x1="1209.0" y1="104.6" x2="1217.5" y2="104.6" stroke="#141213" stroke-width="2.7"/>
<line x1="1209.0" y1="237.6" x2="1217.5" y2="237.6" stroke="#141213" stroke-width="2.7"/>
<line x1="1209.0" y1="370.5" x2="1217.5" y2="370.5" stroke="#141213" stroke-width="2.7"/>
<line x1="1209.0" y1="503.5" x2="1217.5" y2="503.5" stroke="#141213" stroke-width="2.7"/>
<line x1="1209.0" y1="636.5" x2="1217.5" y2="636.5" stroke="#141213" stroke-width="2.7"/>
<line x1="1374.4" y1="760.7" x2="1374.4" y2="769.2" stroke="#141213" stroke-width="2.8"/>
<line x1="1649.8" y1="760.7" x2="1649.8" y2="769.2" stroke="#141213" stroke-width="2.8"/>
<line x1="1925.2" y1="760.7" x2="1925.2" y2="769.2" stroke="#141213" stroke-width="2.8"/>
<line x1="2256.2" y1="66.2" x2="2256.2" y2="760.7" stroke="#e9e9e9" stroke-width="1.2"/>
<line x1="2531.6" y1="66.2" x2="2531.6" y2="760.7" stroke="#e9e9e9" stroke-width="1.2"/>
<line x1="2807" y1="66.2" x2="2807" y2="760.7" stroke="#e9e9e9" stroke-width="1.2"/>
<line x1="3082.4" y1="66.2" x2="3082.4" y2="760.7" stroke="#e9e9e9" stroke-width="1.2"/>
<line x1="2237.0" y1="251" x2="3129.0" y2="251" stroke="#e9e9e9" stroke-width="1.2"/>
<line x1="2237.0" y1="454" x2="3129.0" y2="454" stroke="#e9e9e9" stroke-width="1.2"/>
<line x1="2237.0" y1="657" x2="3129.0" y2="657" stroke="#e9e9e9" stroke-width="1.2"/>
<line x1="2393.9" y1="66.2" x2="2393.9" y2="760.7" stroke="#e3e3e3" stroke-width="2.8"/>
<line x1="2669.3" y1="66.2" x2="2669.3" y2="760.7" stroke="#e3e3e3" stroke-width="2.8"/>
<line x1="2944.7" y1="66.2" x2="2944.7" y2="760.7" stroke="#e3e3e3" stroke-width="2.8"/>
<line x1="2237.0" y1="149.5" x2="3129.0" y2="149.5" stroke="#e3e3e3" stroke-width="2.8"/>
<line x1="2237.0" y1="352.5" x2="3129.0" y2="352.5" stroke="#e3e3e3" stroke-width="2.8"/>
<line x1="2237.0" y1="555.5" x2="3129.0" y2="555.5" stroke="#e3e3e3" stroke-width="2.8"/>
<line x1="2237.0" y1="758.5" x2="3129.0" y2="758.5" stroke="#e3e3e3" stroke-width="2.8"/>
<use href="#mBrazil" x="2654.8" y="456.9"/>
<use href="#mBrazil" x="2662.4" y="459.9"/>
<use href="#mBrazil" x="2670" y="460.5"/>
<use href="#mBrazil" x="2677.6" y="457.5"/>
<use href="#mBrazil" x="2683.7" y="452.3"/>
<use href="#mBrazil" x="2690.3" y="438.6"/>
<use href="#mBrazil" x="2695.8" y="411.9"/>
<use href="#mBrazil" x="2701.9" y="380.8"/>
<use href="#mBrazil" x="2705.9" y="354.1"/>
<use href="#mBrazil" x="2711" y="341.3"/>
<use href="#mBrazil" x="2714" y="339"/>
<use href="#mBrazil" x="2717.1" y="336.7"/>
<use href="#mBrazil" x="2720.9" y="335"/>
<use href="#mBrazil" x="2724.7" y="333.7"/>
<use href="#mBrazil" x="2728.5" y="333.5"/>
<use href="#mBrazil" x="2732.3" y="333.7"/>
<use href="#mBrazil" x="2738.4" y="335.8"/>
<use href="#mBrazil" x="2742.4" y="350.4"/>
<use href="#mBrazil" x="2749" y="383.3"/>
<use href="#mBrazil" x="2754.5" y="422.8"/>
<use href="#mBrazil" x="2761.2" y="458.4"/>
<use href="#mBrazil" x="2768.2" y="478.8"/>
<use href="#mBrazil" x="2775.8" y="490.3"/>
<use href="#mBrazil" x="2783.4" y="498"/>
<use href="#mBrazil" x="2791" y="504.9"/>
<use href="#mBrazil" x="2798.6" y="511"/>
<use href="#mBrazil" x="2806.8" y="516.2"/>
<use href="#mBrazil" x="2814.4" y="520.8"/>
<use href="#mBrazil" x="2823" y="525.3"/>
<use href="#mBrazil" x="2823.6" y="370.2"/>
<use href="#mBrazil" x="2823.6" y="410.6"/>
<use href="#mChina" x="2595.7" y="684.4"/>
<use href="#mChina" x="2604.3" y="672.4"/>
<use href="#mChina" x="2614.2" y="663.6"/>
<use href="#mChina" x="2624.1" y="657.5"/>
<use href="#mChina" x="2635.1" y="654"/>
<use href="#mChina" x="2646.2" y="654.4"/>
<use href="#mChina" x="2657.6" y="659"/>
<use href="#mChina" x="2668.5" y="668.6"/>
<use href="#mChina" x="2678.1" y="679.2"/>
<use href="#mChina" x="2687.2" y="688.7"/>
<use href="#mChina" x="2697.1" y="695.1"/>
<use href="#mChina" x="2707" y="698.1"/>
<use href="#mChina" x="2716.9" y="699.3"/>
<use href="#mChina" x="2726.8" y="700.5"/>
<use href="#mChina" x="2736.7" y="701.6"/>
<use href="#mChina" x="2747.8" y="703.6"/>
<use href="#mChina" x="2758.7" y="708.1"/>
<use href="#mChina" x="2769.8" y="714.8"/>
<use href="#mChina" x="2780.8" y="721.8"/>
<use href="#mChina" x="2791.7" y="727.5"/>
<use href="#mChina" x="2802.8" y="730"/>
<use href="#mChina" x="2813.9" y="729.7"/>
<use href="#mChina" x="2821.8" y="727"/>
<use href="#mChina" x="2830.6" y="725.2"/>
<use href="#mChina" x="2841.6" y="722.1"/>
<use href="#mChina" x="2844.6" y="722.1"/>
<use href="#mChina" x="2856" y="724.4"/>
<use href="#mChina" x="2867.2" y="726.4"/>
<use href="#mChina" x="2875.1" y="727.9"/>
<use href="#mChina" x="2875.1" y="715.3"/>
<use href="#mEgypt" x="2562.6" y="481.3"/>
<use href="#mEgypt" x="2576" y="476"/>
<use href="#mEgypt" x="2588.1" y="471.6"/>
<use href="#mEgypt" x="2600.2" y="468.8"/>
<use href="#mEgypt" x="2612.5" y="467.1"/>
<use href="#mEgypt" x="2624.3" y="467.4"/>
<use href="#mEgypt" x="2635.5" y="471.3"/>
<use href="#mEgypt" x="2645.5" y="479.7"/>
<use href="#mEgypt" x="2655.4" y="489.4"/>
<use href="#mEgypt" x="2665.2" y="497.4"/>
<use href="#mEgypt" x="2674.1" y="500.1"/>
<use href="#mEgypt" x="2682.9" y="498.7"/>
<use href="#mEgypt" x="2691.9" y="498"/>
<use href="#mEgypt" x="2700.4" y="495.8"/>
<use href="#mEgypt" x="2708" y="494"/>
<use href="#mEgypt" x="2716.5" y="493.4"/>
<use href="#mEgypt" x="2724.7" y="494"/>
<use href="#mEgypt" x="2733.2" y="495.8"/>
<use href="#mEgypt" x="2741.4" y="497"/>
<use href="#mEgypt" x="2750.6" y="497.9"/>
<use href="#mEgypt" x="2760.6" y="497.9"/>
<use href="#mEgypt" x="2770.3" y="493.4"/>
<use href="#mEgypt" x="2779.5" y="484.3"/>
<use href="#mEgypt" x="2789.2" y="469.7"/>
<use href="#mEgypt" x="2799.2" y="459.3"/>
<use href="#mEgypt" x="2809.3" y="452.9"/>
<use href="#mEgypt" x="2819" y="450.2"/>
<use href="#mEgypt" x="2828.1" y="449.3"/>
<use href="#mEgypt" x="2837.3" y="448.7"/>
<use href="#mEgypt" x="2844.9" y="448.4"/>
<use href="#mEgypt" x="2844" y="335.8"/>
<use href="#mEthiopia" x="2276.6" y="231.7"/>
<use href="#mEthiopia" x="2276" y="238"/>
<use href="#mEthiopia" x="2279.2" y="243"/>
<use href="#mEthiopia" x="2283.2" y="246.9"/>
<use href="#mEthiopia" x="2288.3" y="248.4"/>
<use href="#mEthiopia" x="2292" y="244"/>
<use href="#mEthiopia" x="2294.4" y="239.3"/>
<use href="#mEthiopia" x="2299.4" y="237.2"/>
<use href="#mEthiopia" x="2304.5" y="237.7"/>
<use href="#mEthiopia" x="2309.6" y="238.8"/>
<use href="#mEthiopia" x="2314.6" y="241.3"/>
<use href="#mEthiopia" x="2318.7" y="243.8"/>
<use href="#mEthiopia" x="2322.7" y="247.4"/>
<use href="#mEthiopia" x="2326.3" y="251.4"/>
<use href="#mEthiopia" x="2333.8" y="258.4"/>
<use href="#mEthiopia" x="2342.8" y="263.2"/>
<use href="#mEthiopia" x="2353.4" y="269.4"/>
<use href="#mEthiopia" x="2364.1" y="276.1"/>
<use href="#mEthiopia" x="2375.8" y="283.2"/>
<use href="#mEthiopia" x="2387.6" y="289.1"/>
<use href="#mEthiopia" x="2400.6" y="295.8"/>
<use href="#mEthiopia" x="2413.6" y="302.9"/>
<use href="#mEthiopia" x="2426.2" y="309.5"/>
<use href="#mEthiopia" x="2439.1" y="315.4"/>
<use href="#mEthiopia" x="2451.7" y="317.4"/>
<use href="#mEthiopia" x="2463.5" y="315.4"/>
<use href="#mEthiopia" x="2476.1" y="312.7"/>
<use href="#mEthiopia" x="2486.3" y="310.7"/>
<use href="#mEthiopia" x="2496.1" y="310.3"/>
<use href="#mEthiopia" x="2496.1" y="227"/>
<use href="#mEthiopia" x="2496.1" y="238.8"/>
<use href="#mIndia" x="2478.4" y="437.3"/>
<use href="#mIndia" x="2485.1" y="411.7"/>
<use href="#mIndia" x="2491.8" y="388.9"/>
<use href="#mIndia" x="2498.1" y="371.3"/>
<use href="#mIndia" x="2504.8" y="357.9"/>
<use href="#mIndia" x="2512.6" y="352"/>
<use href="#mIndia" x="2520.5" y="352.8"/>
<use href="#mIndia" x="2527.6" y="356.7"/>
<use href="#mIndia" x="2535.4" y="361.8"/>
<use href="#mIndia" x="2544.1" y="365.8"/>
<use href="#mIndia" x="2552" y="366.5"/>
<use href="#mIndia" x="2559.8" y="362.6"/>
<use href="#mIndia" x="2567.7" y="354.7"/>
<use href="#mIndia" x="2575.5" y="346.9"/>
<use href="#mIndia" x="2583.4" y="341"/>
<use href="#mIndia" x="2591.3" y="339"/>
<use href="#mIndia" x="2600.5" y="357"/>
<use href="#mIndia" x="2610" y="398.5"/>
<use href="#mIndia" x="2619.7" y="449"/>
<use href="#mIndia" x="2628.8" y="491.5"/>
<use href="#mIndia" x="2639.7" y="510.9"/>
<use href="#mIndia" x="2650.8" y="512.7"/>
<use href="#mIndia" x="2661.9" y="513.1"/>
<use href="#mIndia" x="2674.1" y="512.7"/>
<use href="#mIndia" x="2686.1" y="512.5"/>
<use href="#mIndia" x="2698" y="512.2"/>
<use href="#mIndia" x="2710.1" y="514.1"/>
<use href="#mIndia" x="2721.7" y="515.3"/>
<use href="#mIndia" x="2733.2" y="517.7"/>
<use href="#mIndia" x="2742.4" y="518.3"/>
<use href="#mIndia" x="2742.4" y="403.7"/>
<use href="#mIndia" x="2742.4" y="408.8"/>
<use href="#mIran" x="2563.7" y="280"/>
<use href="#mIran" x="2580.2" y="291.5"/>
<use href="#mIran" x="2596" y="301.7"/>
<use href="#mIran" x="2609.9" y="310"/>
<use href="#mIran" x="2622.4" y="315.6"/>
<use href="#mIran" x="2634.9" y="319.5"/>
<use href="#mIran" x="2644.8" y="322.2"/>
<use href="#mIran" x="2654.7" y="324.5"/>
<use href="#mIran" x="2665.2" y="327.1"/>
<use href="#mIran" x="2676.7" y="328.8"/>
<use href="#mIran" x="2688.3" y="328.8"/>
<use href="#mIran" x="2701.4" y="327.1"/>
<use href="#mIran" x="2714.6" y="324.5"/>
<use href="#mIran" x="2726.8" y="321.2"/>
<use href="#mIran" x="2737.7" y="315.6"/>
<use href="#mIran" x="2748.2" y="310.6"/>
<use href="#mIran" x="2758.5" y="301.7"/>
<use href="#mIran" x="2772.3" y="284.9"/>
<use href="#mIran" x="2783.2" y="265.2"/>
<use href="#mIran" x="2793.7" y="248"/>
<use href="#mIran" x="2803.6" y="237.5"/>
<use href="#mIran" x="2812.8" y="229.9"/>
<use href="#mIran" x="2818.4" y="220"/>
<use href="#mIran" x="2824" y="210.1"/>
<use href="#mIran" x="2829.3" y="201.9"/>
<use href="#mIran" x="2834.2" y="198"/>
<use href="#mIran" x="2840.5" y="201.2"/>
<use href="#mIran" x="2845.8" y="208.5"/>
<use href="#mIran" x="2851.4" y="218.4"/>
<use href="#mIran" x="2857" y="230.9"/>
<use href="#mIran" x="2857" y="99.1"/>
<use href="#mIran" x="2857" y="133.7"/>
<use href="#mRussia" x="2884.5" y="585.1"/>
<use href="#mRussia" x="2893.7" y="581.8"/>
<use href="#mRussia" x="2907.7" y="579"/>
<use href="#mRussia" x="2912.6" y="576"/>
<use href="#mRussia" x="2917.7" y="574.8"/>
<use href="#mRussia" x="2921.5" y="577.5"/>
<use href="#mRussia" x="2923.5" y="586"/>
<use href="#mRussia" x="2928" y="592.4"/>
<use href="#mRussia" x="2935.5" y="597.1"/>
<use href="#mRussia" x="2943.9" y="601.9"/>
<use href="#mRussia" x="2950.3" y="607.4"/>
<use href="#mRussia" x="2955.1" y="613.9"/>
<use href="#mRussia" x="2960.7" y="620.3"/>
<use href="#mRussia" x="2967.1" y="626.4"/>
<use href="#mRussia" x="2973.2" y="629.2"/>
<use href="#mRussia" x="2977.4" y="623.1"/>
<use href="#mRussia" x="2983" y="615.3"/>
<use href="#mRussia" x="2988.5" y="609.7"/>
<use href="#mRussia" x="2995.5" y="606.9"/>
<use href="#mRussia" x="3002.5" y="609.7"/>
<use href="#mRussia" x="3006.7" y="613.9"/>
<use href="#mRussia" x="3006" y="478.5"/>
<use href="#mRussia" x="3006" y="542"/>
<use href="#mSaudi" x="2647.1" y="435.6"/>
<use href="#mSaudi" x="2659.9" y="437.1"/>
<use href="#mSaudi" x="2673.6" y="439.2"/>
<use href="#mSaudi" x="2688.2" y="441.1"/>
<use href="#mSaudi" x="2701.9" y="441.7"/>
<use href="#mSaudi" x="2715" y="441.7"/>
<use href="#mSaudi" x="2729.3" y="441.1"/>
<use href="#mSaudi" x="2743" y="438.6"/>
<use href="#mSaudi" x="2755.1" y="436.5"/>
<use href="#mSaudi" x="2768.8" y="434.1"/>
<use href="#mSaudi" x="2781.9" y="431.9"/>
<use href="#mSaudi" x="2795.3" y="428.9"/>
<use href="#mSaudi" x="2807.8" y="427.1"/>
<use href="#mSaudi" x="2820.5" y="424.9"/>
<use href="#mSaudi" x="2834.8" y="421.9"/>
<use href="#mSaudi" x="2850.3" y="420.4"/>
<use href="#mSaudi" x="2864.6" y="418.9"/>
<use href="#mSaudi" x="2878.9" y="416.5"/>
<use href="#mSaudi" x="2893.3" y="414.7"/>
<use href="#mSaudi" x="2906.8" y="413.2"/>
<use href="#mSaudi" x="2918.7" y="411.4"/>
<use href="#mSaudi" x="2932.1" y="409.7"/>
<use href="#mSaudi" x="2945.3" y="406.9"/>
<use href="#mSaudi" x="2956.2" y="403.1"/>
<use href="#mSaudi" x="2966.3" y="400.5"/>
<use href="#mSaudi" x="2976.5" y="399.5"/>
<use href="#mSaudi" x="2985.4" y="398"/>
<use href="#mSaudi" x="2993" y="397"/>
<use href="#mSaudi" x="3000.6" y="395.7"/>
<use href="#mSaudi" x="3006.9" y="394.4"/>
<use href="#mSaudi" x="3006.2" y="254.2"/>
<use href="#mSaudi" x="3006.2" y="328.5"/>
<use href="#mSouthAfrica" x="2727.1" y="390"/>
<use href="#mSouthAfrica" x="2731.4" y="400.6"/>
<use href="#mSouthAfrica" x="2735.4" y="410.6"/>
<use href="#mSouthAfrica" x="2739.9" y="420.4"/>
<use href="#mSouthAfrica" x="2745.4" y="428"/>
<use href="#mSouthAfrica" x="2751.5" y="434.1"/>
<use href="#mSouthAfrica" x="2758.2" y="437.1"/>
<use href="#mSouthAfrica" x="2764.3" y="440.2"/>
<use href="#mSouthAfrica" x="2770.3" y="444.1"/>
<use href="#mSouthAfrica" x="2776.4" y="448.4"/>
<use href="#mSouthAfrica" x="2782.5" y="453.2"/>
<use href="#mSouthAfrica" x="2788.6" y="458.4"/>
<use href="#mSouthAfrica" x="2794.7" y="462.4"/>
<use href="#mSouthAfrica" x="2800.8" y="463"/>
<use href="#mSouthAfrica" x="2806.8" y="459.9"/>
<use href="#mSouthAfrica" x="2813.5" y="453.8"/>
<use href="#mSouthAfrica" x="2819.6" y="446.2"/>
<use href="#mSouthAfrica" x="2826.6" y="437.1"/>
<use href="#mSouthAfrica" x="2832.7" y="429.5"/>
<use href="#mSouthAfrica" x="2837.9" y="421.9"/>
<use href="#mSouthAfrica" x="2843.3" y="414.3"/>
<use href="#mSouthAfrica" x="2848.8" y="409.7"/>
<use href="#mSouthAfrica" x="2854.9" y="406.7"/>
<use href="#mSouthAfrica" x="2861" y="404.3"/>
<use href="#mSouthAfrica" x="2867.1" y="401.5"/>
<use href="#mSouthAfrica" x="2866.2" y="229.9"/>
<use href="#mSouthAfrica" x="2866.2" y="253"/>
<use href="#mUAE" x="2803.2" y="445.6"/>
<use href="#mUAE" x="2820.3" y="447"/>
<use href="#mUAE" x="2838.4" y="449.3"/>
<use href="#mUAE" x="2855.8" y="450.5"/>
<use href="#mUAE" x="2873.5" y="452.3"/>
<use href="#mUAE" x="2890.2" y="453.4"/>
<use href="#mUAE" x="2905.8" y="454.9"/>
<use href="#mUAE" x="2920" y="457.6"/>
<use href="#mUAE" x="2934.2" y="460.8"/>
<use href="#mUAE" x="2946.2" y="463.8"/>
<use href="#mUAE" x="2958.7" y="466.5"/>
<use href="#mUAE" x="2970.5" y="468.3"/>
<use href="#mUAE" x="2981.7" y="470.9"/>
<use href="#mUAE" x="2991.8" y="474.6"/>
<use href="#mUAE" x="3001.9" y="478.2"/>
<use href="#mUAE" x="3011.3" y="483"/>
<use href="#mUAE" x="3021.5" y="489.2"/>
<use href="#mUAE" x="3032.1" y="498.9"/>
<use href="#mUAE" x="3042.4" y="507.8"/>
<use href="#mUAE" x="3051.3" y="515.4"/>
<use href="#mUAE" x="3058.9" y="518.1"/>
<use href="#mUAE" x="3065.8" y="516.7"/>
<use href="#mUAE" x="3069.9" y="514"/>
<use href="#mUAE" x="3075.2" y="510.5"/>
<use href="#mUAE" x="3079.6" y="506.4"/>
<use href="#mUAE" x="3084.1" y="502.5"/>
<use href="#mUAE" x="3088.9" y="498.1"/>
<use href="#mUAE" x="3088.6" y="381"/>
<use href="#mUAE" x="3088.6" y="395"/>
<polygon points="2277.9,185.5 2284.7,191.3 2291.5,197 2298.3,202.7 2305.2,208.3 2312,213.9 2318.8,219.4 2325.6,224.8 2332.4,230.2 2339.2,235.5 2346.1,240.8 2352.9,246 2359.7,251.1 2366.5,256.2 2373.3,261.2 2380.1,266.1 2387,271 2393.8,275.8 2400.6,280.6 2407.4,285.3 2414.2,289.9 2421,294.5 2427.9,299 2434.7,303.5 2441.5,307.9 2448.3,312.2 2455.1,316.5 2461.9,320.7 2468.7,324.8 2475.6,328.9 2482.4,333 2489.2,337 2496,340.9 2502.8,344.8 2509.6,348.6 2516.5,352.3 2523.3,356 2530.1,359.7 2536.9,363.3 2543.7,366.8 2550.5,370.3 2557.4,373.7 2564.2,377.1 2571,380.4 2577.8,383.7 2584.6,386.9 2591.4,390 2598.3,393.1 2605.1,396.2 2611.9,399.1 2618.7,402.1 2625.5,405 2632.3,407.8 2639.1,410.5 2646,413.2 2652.8,415.9 2659.6,418.5 2666.4,421 2673.2,423.5 2680,425.9 2686.9,428.3 2693.7,430.6 2700.5,432.8 2707.3,435 2714.1,437.1 2720.9,439.2 2727.8,441.2 2734.6,443.1 2741.4,445 2748.2,446.9 2755,448.6 2761.8,450.3 2768.6,452 2775.5,453.6 2782.3,455.1 2789.1,456.5 2795.9,458 2802.7,459.3 2809.5,460.6 2816.4,461.8 2823.2,462.9 2830,464 2836.8,465 2843.6,466 2850.4,466.9 2857.3,467.7 2864.1,468.5 2870.9,469.2 2877.7,469.8 2884.5,470.4 2891.3,470.9 2898.2,471.3 2905,471.7 2911.8,472 2918.6,472.3 2925.4,472.4 2932.2,472.5 2939,472.6 2945.9,472.6 2952.7,472.5 2959.5,472.3 2966.3,472.1 2973.1,471.9 2979.9,471.5 2986.8,471.2 2993.6,470.7 3000.4,470.2 3007.2,469.6 3014,469 3020.8,468.3 3027.7,467.6 3034.5,466.8 3041.3,465.9 3048.1,465 3054.9,464.1 3061.7,463.1 3068.6,462 3075.4,460.9 3082.2,459.7 3089,458.4 3089,535.3 3082.2,534.1 3075.4,532.9 3068.6,531.7 3061.7,530.5 3054.9,529.4 3048.1,528.2 3041.3,527.1 3034.5,526 3027.7,524.9 3020.8,523.8 3014,522.7 3007.2,521.6 3000.4,520.6 2993.6,519.5 2986.8,518.5 2979.9,517.5 2973.1,516.4 2966.3,515.4 2959.5,514.4 2952.7,513.4 2945.9,512.4 2939,511.4 2932.2,510.3 2925.4,509.3 2918.6,508.3 2911.8,507.3 2905,506.3 2898.2,505.2 2891.3,504.2 2884.5,503.1 2877.7,502.1 2870.9,501 2864.1,499.9 2857.3,498.8 2850.4,497.7 2843.6,496.6 2836.8,495.4 2830,494.3 2823.2,493.1 2816.4,491.8 2809.5,490.6 2802.7,489.3 2795.9,488 2789.1,486.6 2782.3,485.2 2775.5,483.8 2768.6,482.3 2761.8,480.8 2755,479.3 2748.2,477.7 2741.4,476.1 2734.6,474.4 2727.8,472.7 2720.9,470.9 2714.1,469 2707.3,467.1 2700.5,465.2 2693.7,463.2 2686.9,461.2 2680,459.1 2673.2,456.9 2666.4,454.7 2659.6,452.5 2652.8,450.2 2646,447.9 2639.1,445.5 2632.3,443.1 2625.5,440.7 2618.7,438.2 2611.9,435.6 2605.1,433 2598.3,430.4 2591.4,427.8 2584.6,425.1 2577.8,422.4 2571,419.6 2564.2,416.8 2557.4,414 2550.5,411.1 2543.7,408.2 2536.9,405.3 2530.1,402.3 2523.3,399.3 2516.5,396.3 2509.6,393.3 2502.8,390.2 2496,387.1 2489.2,384 2482.4,380.9 2475.6,377.7 2468.7,374.6 2461.9,371.4 2455.1,368.2 2448.3,365 2441.5,361.8 2434.7,358.6 2427.9,355.3 2421,352.1 2414.2,348.8 2407.4,345.6 2400.6,342.3 2393.8,339.1 2387,335.8 2380.1,332.6 2373.3,329.3 2366.5,326.1 2359.7,322.8 2352.9,319.6 2346.1,316.4 2339.2,313.1 2332.4,309.9 2325.6,306.7 2318.8,303.5 2312,300.3 2305.2,297.1 2298.3,294 2291.5,290.8 2284.7,287.7 2277.9,284.6" fill="#8f9197" fill-opacity="0.4"/>
<polyline points="2277.9,235 2284.7,239.5 2291.5,243.9 2298.3,248.3 2305.2,252.7 2312,257.1 2318.8,261.4 2325.6,265.8 2332.4,270.1 2339.2,274.3 2346.1,278.6 2352.9,282.8 2359.7,287 2366.5,291.1 2373.3,295.3 2380.1,299.4 2387,303.4 2393.8,307.5 2400.6,311.5 2407.4,315.4 2414.2,319.4 2421,323.3 2427.9,327.2 2434.7,331 2441.5,334.8 2448.3,338.6 2455.1,342.3 2461.9,346 2468.7,349.7 2475.6,353.3 2482.4,356.9 2489.2,360.5 2496,364 2502.8,367.5 2509.6,370.9 2516.5,374.3 2523.3,377.7 2530.1,381 2536.9,384.3 2543.7,387.5 2550.5,390.7 2557.4,393.8 2564.2,396.9 2571,400 2577.8,403 2584.6,406 2591.4,408.9 2598.3,411.8 2605.1,414.6 2611.9,417.4 2618.7,420.1 2625.5,422.8 2632.3,425.4 2639.1,428 2646,430.6 2652.8,433.1 2659.6,435.5 2666.4,437.9 2673.2,440.2 2680,442.5 2686.9,444.7 2693.7,446.9 2700.5,449 2707.3,451.1 2714.1,453.1 2720.9,455 2727.8,456.9 2734.6,458.8 2741.4,460.5 2748.2,462.3 2755,464 2761.8,465.6 2768.6,467.2 2775.5,468.7 2782.3,470.2 2789.1,471.6 2795.9,473 2802.7,474.3 2809.5,475.6 2816.4,476.8 2823.2,478 2830,479.1 2836.8,480.2 2843.6,481.3 2850.4,482.3 2857.3,483.3 2864.1,484.2 2870.9,485.1 2877.7,486 2884.5,486.8 2891.3,487.5 2898.2,488.3 2905,489 2911.8,489.6 2918.6,490.3 2925.4,490.9 2932.2,491.4 2939,492 2945.9,492.5 2952.7,492.9 2959.5,493.4 2966.3,493.8 2973.1,494.2 2979.9,494.5 2986.8,494.8 2993.6,495.1 3000.4,495.4 3007.2,495.6 3014,495.9 3020.8,496.1 3027.7,496.2 3034.5,496.4 3041.3,496.5 3048.1,496.6 3054.9,496.7 3061.7,496.8 3068.6,496.8 3075.4,496.9 3082.2,496.9 3089,496.9" fill="none" stroke="#74757c" stroke-width="5.4" stroke-linejoin="round"/>
<rect x="2237.0" y="9.0" width="892.0" height="57.2" fill="#e7e5d7"/>
<line x1="2236.4" y1="8.9" x2="3129.6" y2="8.9" stroke="#141213" stroke-width="1.7"/>
<line x1="2236.4" y1="66.4" x2="3129.6" y2="66.4" stroke="#141213" stroke-width="2.8"/>
<line x1="2236.4" y1="760.9" x2="3129.6" y2="760.9" stroke="#141213" stroke-width="1.7"/>
<line x1="2237.0" y1="8.1" x2="2237.0" y2="761.7" stroke="#141213" stroke-width="1.4"/>
<line x1="3129.0" y1="8.1" x2="3129.0" y2="761.7" stroke="#141213" stroke-width="1.6"/>
<line x1="2228.5" y1="149.5" x2="2237.0" y2="149.5" stroke="#141213" stroke-width="2.7"/>
<line x1="2228.5" y1="352.5" x2="2237.0" y2="352.5" stroke="#141213" stroke-width="2.7"/>
<line x1="2228.5" y1="555.5" x2="2237.0" y2="555.5" stroke="#141213" stroke-width="2.7"/>
<line x1="2228.5" y1="758.5" x2="2237.0" y2="758.5" stroke="#141213" stroke-width="2.7"/>
<line x1="2393.9" y1="760.7" x2="2393.9" y2="769.2" stroke="#141213" stroke-width="2.8"/>
<line x1="2669.3" y1="760.7" x2="2669.3" y2="769.2" stroke="#141213" stroke-width="2.8"/>
<line x1="2944.7" y1="760.7" x2="2944.7" y2="769.2" stroke="#141213" stroke-width="2.8"/>
<use href="#mIndia" x="1181.5" y="894"/>
<use href="#mChina" x="1181.5" y="933"/>
<use href="#mBrazil" x="1370.4" y="894"/>
<use href="#mRussia" x="1370.4" y="933"/>
<use href="#mIran" x="1571.3" y="894"/>
<use href="#mEgypt" x="1571.3" y="933"/>
<use href="#mEthiopia" x="1758.8" y="894"/>
<use href="#mSouthAfrica" x="1758.8" y="933"/>
<use href="#mSaudi" x="2025.7" y="894"/>
<use href="#mUAE" x="2025.7" y="933"/>
<text x="525.00" y="53.00" font-size="50.9" textLength="246.13" lengthAdjust="spacingAndGlyphs">Prevalence</text>
<text x="1564.20" y="53.00" font-size="50.9" textLength="216.83" lengthAdjust="spacingAndGlyphs">Incidence</text>
<text x="2617.20" y="52.80" font-size="50.9" textLength="130.00" lengthAdjust="spacingAndGlyphs">DALYs</text>
<text x="83.00" y="272.97" font-size="37.5" textLength="95.14" lengthAdjust="spacingAndGlyphs">5,000</text>
<text x="84.00" y="487.77" font-size="37.5" textLength="94.07" lengthAdjust="spacingAndGlyphs">4,000</text>
<text x="83.00" y="701.98" font-size="37.5" textLength="95.11" lengthAdjust="spacingAndGlyphs">3,000</text>
<text x="1103.00" y="114.37" font-size="37.5" textLength="95.14" lengthAdjust="spacingAndGlyphs">7,000</text>
<text x="1103.00" y="247.37" font-size="37.5" textLength="95.14" lengthAdjust="spacingAndGlyphs">6,000</text>
<text x="1103.00" y="379.97" font-size="37.5" textLength="95.14" lengthAdjust="spacingAndGlyphs">5,000</text>
<text x="1104.00" y="512.98" font-size="37.5" textLength="94.07" lengthAdjust="spacingAndGlyphs">4,000</text>
<text x="1103.00" y="645.98" font-size="37.5" textLength="95.11" lengthAdjust="spacingAndGlyphs">3,000</text>
<text x="2120.00" y="158.97" font-size="37.5" textLength="95.14" lengthAdjust="spacingAndGlyphs">1,000</text>
<text x="2152.00" y="361.97" font-size="37.5" textLength="63.11" lengthAdjust="spacingAndGlyphs">800</text>
<text x="2152.00" y="564.98" font-size="37.5" textLength="63.11" lengthAdjust="spacingAndGlyphs">600</text>
<text x="2153.00" y="767.98" font-size="37.5" textLength="62.04" lengthAdjust="spacingAndGlyphs">400</text>
<text x="316.60" y="814.00" font-size="37.5" textLength="75.13" lengthAdjust="spacingAndGlyphs">0.25</text>
<text x="592.20" y="814.00" font-size="37.5" textLength="75.13" lengthAdjust="spacingAndGlyphs">0.50</text>
<text x="867.80" y="814.00" font-size="37.5" textLength="75.13" lengthAdjust="spacingAndGlyphs">0.75</text>
<text x="1336.60" y="814.00" font-size="37.5" textLength="75.13" lengthAdjust="spacingAndGlyphs">0.25</text>
<text x="1612.20" y="814.00" font-size="37.5" textLength="75.13" lengthAdjust="spacingAndGlyphs">0.50</text>
<text x="1887.80" y="814.00" font-size="37.5" textLength="75.13" lengthAdjust="spacingAndGlyphs">0.75</text>
<text x="2356.60" y="814.00" font-size="37.5" textLength="75.13" lengthAdjust="spacingAndGlyphs">0.25</text>
<text x="2631.20" y="814.00" font-size="37.5" textLength="75.13" lengthAdjust="spacingAndGlyphs">0.50</text>
<text x="2906.80" y="814.00" font-size="37.5" textLength="75.13" lengthAdjust="spacingAndGlyphs">0.75</text>
<text x="1641.00" y="867.20" font-size="37.6" textLength="55.89" lengthAdjust="spacingAndGlyphs">SDI</text>
<text x="1208.60" y="905.20" font-size="37.6" textLength="80.50" lengthAdjust="spacingAndGlyphs">India</text>
<text x="1396.00" y="905.20" font-size="37.6" textLength="94.15" lengthAdjust="spacingAndGlyphs">Brazil</text>
<text x="1596.80" y="905.20" font-size="37.6" textLength="68.43" lengthAdjust="spacingAndGlyphs">Iran</text>
<text x="1785.00" y="905.64" font-size="37.6" textLength="137.49" lengthAdjust="spacingAndGlyphs">Ethiopia</text>
<text x="2053.00" y="905.20" font-size="37.6" textLength="208.41" lengthAdjust="spacingAndGlyphs">Saudi Arabia</text>
<text x="1209.60" y="947.00" font-size="37.6" textLength="92.07" lengthAdjust="spacingAndGlyphs">China</text>
<text x="1397.00" y="947.00" font-size="37.6" textLength="105.27" lengthAdjust="spacingAndGlyphs">Russia</text>
<text x="1597.80" y="946.44" font-size="37.6" textLength="93.32" lengthAdjust="spacingAndGlyphs">Egypt</text>
<text x="1786.00" y="947.00" font-size="37.6" textLength="203.62" lengthAdjust="spacingAndGlyphs">South Africa</text>
<text x="2052.00" y="947.00" font-size="37.6" textLength="70.05" lengthAdjust="spacingAndGlyphs">UAE</text>
<text x="226.80" y="733.63" font-size="43.6" textLength="375.42" lengthAdjust="spacingAndGlyphs"><tspan font-style="italic">r</tspan> = −0.49, <tspan font-style="italic">P</tspan> &lt; 0.001</text>
<text x="1237.60" y="736.03" font-size="43.6" textLength="377.42" lengthAdjust="spacingAndGlyphs"><tspan font-style="italic">r</tspan> = −0.41, <tspan font-style="italic">P</tspan> &lt; 0.001</text>
<text x="2265.40" y="736.03" font-size="43.6" textLength="376.82" lengthAdjust="spacingAndGlyphs"><tspan font-style="italic">r</tspan> = −0.43, <tspan font-style="italic">P</tspan> &lt; 0.001</text>
<text transform="translate(50.40,715.80) rotate(-90)" font-size="37.8" textLength="589.20" lengthAdjust="spacingAndGlyphs">Age−standardized rate per 100,000</text>
</svg></body></html>
